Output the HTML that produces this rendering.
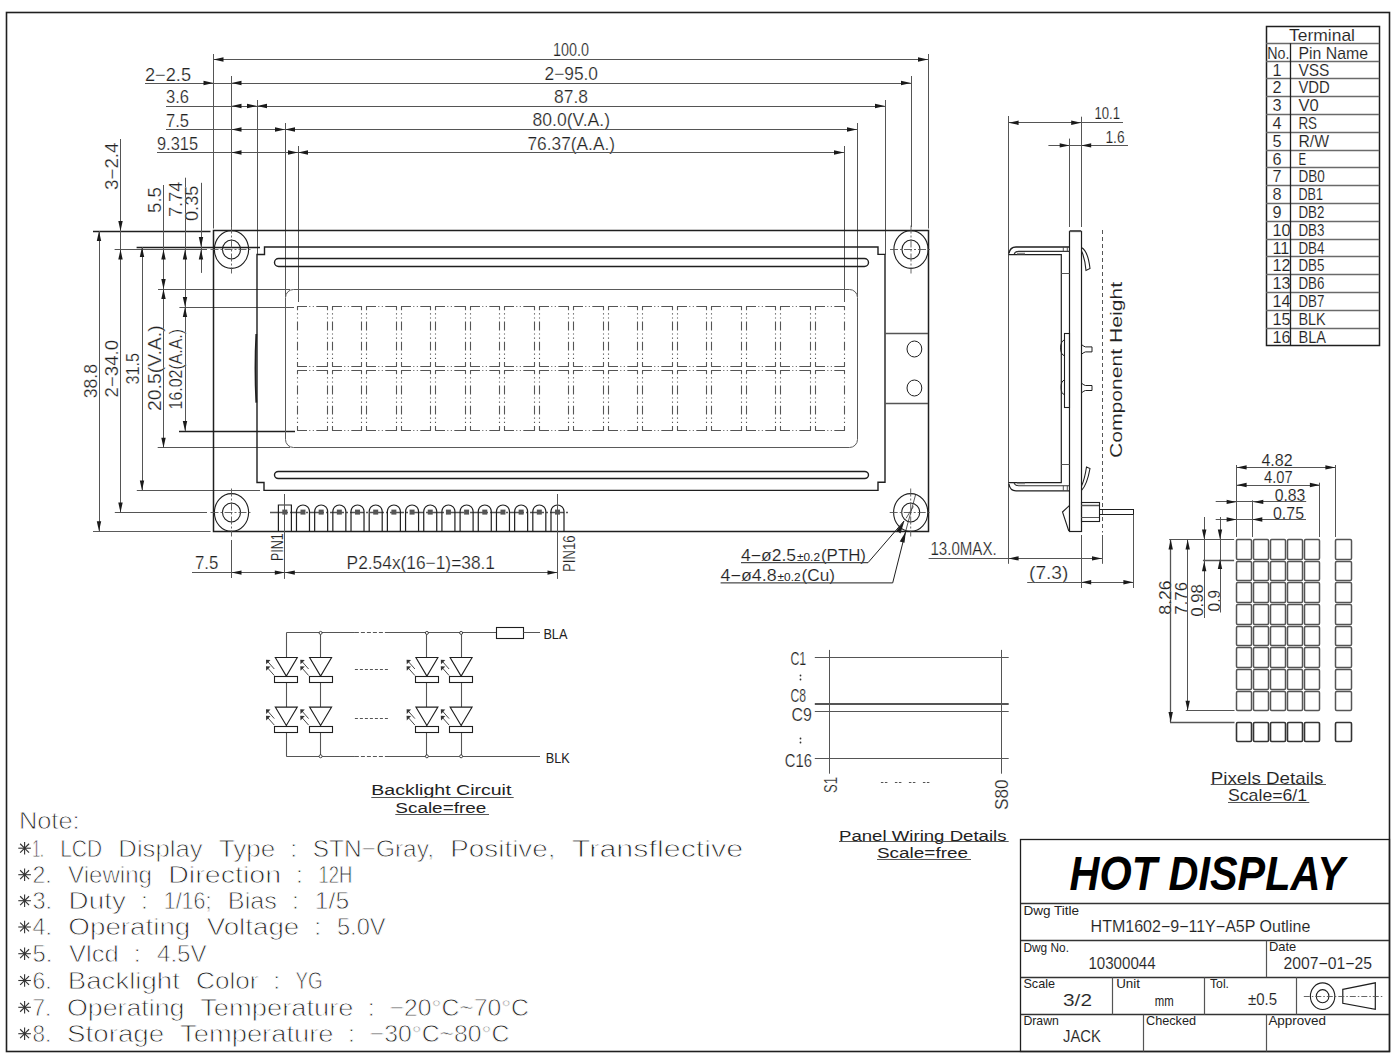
<!DOCTYPE html>
<html><head><meta charset="utf-8"><title>HTM1602 Outline</title>
<style>
html,body{margin:0;padding:0;background:#fff;}
body{width:1400px;height:1061px;overflow:hidden;font-family:"Liberation Sans",sans-serif;}
svg{display:block;}
</style></head><body>
<svg width="1400" height="1061" viewBox="0 0 1400 1061" shape-rendering="geometricPrecision">
<rect x="0" y="0" width="1400" height="1061" fill="#fff"/>
<rect x="6.5" y="12.5" width="1383" height="1039" fill="none" stroke="#1f1f1f" stroke-width="1.6"/>
<line x1="213.5" y1="54" x2="213.5" y2="228.5" stroke="#555" stroke-width="1"/>
<line x1="231.5" y1="76" x2="231.5" y2="227" stroke="#555" stroke-width="1"/>
<line x1="257.5" y1="100" x2="257.5" y2="254.5" stroke="#555" stroke-width="1"/>
<line x1="285.5" y1="123" x2="285.5" y2="297" stroke="#555" stroke-width="1"/>
<line x1="298.5" y1="146" x2="298.5" y2="302" stroke="#555" stroke-width="1"/>
<line x1="844.5" y1="146" x2="844.5" y2="302" stroke="#555" stroke-width="1"/>
<line x1="857.5" y1="123" x2="857.5" y2="297" stroke="#555" stroke-width="1"/>
<line x1="885.5" y1="100" x2="885.5" y2="254.5" stroke="#555" stroke-width="1"/>
<line x1="911.5" y1="76" x2="911.5" y2="227" stroke="#555" stroke-width="1"/>
<line x1="928.5" y1="54" x2="928.5" y2="228.5" stroke="#555" stroke-width="1"/>
<line x1="213.5" y1="59.5" x2="928" y2="59.5" stroke="#555" stroke-width="1"/>
<polygon points="213.5,59.5 223.5,57.3 223.5,61.7" fill="#1a1a1a"/>
<polygon points="928,59.5 918,57.3 918,61.7" fill="#1a1a1a"/>
<text x="553" y="56" font-size="17.44" font-weight="normal" font-style="normal" font-family="Liberation Sans" fill="#222" textLength="36" lengthAdjust="spacingAndGlyphs" stroke="#fff" stroke-width="0.23">100.0</text>
<line x1="145" y1="83.5" x2="911" y2="83.5" stroke="#555" stroke-width="1"/>
<polygon points="213.5,83 203.5,80.8 203.5,85.2" fill="#1a1a1a"/>
<polygon points="231.5,83 241.5,80.8 241.5,85.2" fill="#1a1a1a"/>
<polygon points="911,83 901,80.8 901,85.2" fill="#1a1a1a"/>
<text x="145" y="80.5" font-size="17.44" font-weight="normal" font-style="normal" font-family="Liberation Sans" fill="#222" textLength="46" lengthAdjust="spacingAndGlyphs" stroke="#fff" stroke-width="0.23">2−2.5</text>
<text x="544.5" y="79.5" font-size="17.44" font-weight="normal" font-style="normal" font-family="Liberation Sans" fill="#222" textLength="53.5" lengthAdjust="spacingAndGlyphs" stroke="#fff" stroke-width="0.23">2−95.0</text>
<line x1="166" y1="106.5" x2="885" y2="106.5" stroke="#555" stroke-width="1"/>
<polygon points="231.5,106 241.5,103.8 241.5,108.2" fill="#1a1a1a"/>
<polygon points="257,106 247,103.8 247,108.2" fill="#1a1a1a"/>
<polygon points="257,106 267,103.8 267,108.2" fill="#1a1a1a"/>
<polygon points="885,106 875,103.8 875,108.2" fill="#1a1a1a"/>
<text x="166" y="103" font-size="17.44" font-weight="normal" font-style="normal" font-family="Liberation Sans" fill="#222" textLength="23" lengthAdjust="spacingAndGlyphs" stroke="#fff" stroke-width="0.23">3.6</text>
<text x="554" y="102.5" font-size="17.44" font-weight="normal" font-style="normal" font-family="Liberation Sans" fill="#222" textLength="34" lengthAdjust="spacingAndGlyphs" stroke="#fff" stroke-width="0.23">87.8</text>
<line x1="166" y1="129.5" x2="857" y2="129.5" stroke="#555" stroke-width="1"/>
<polygon points="231.5,129.5 241.5,127.3 241.5,131.7" fill="#1a1a1a"/>
<polygon points="285,129.5 275,127.3 275,131.7" fill="#1a1a1a"/>
<polygon points="285,129.5 295,127.3 295,131.7" fill="#1a1a1a"/>
<polygon points="857,129.5 847,127.3 847,131.7" fill="#1a1a1a"/>
<text x="166" y="126.5" font-size="17.44" font-weight="normal" font-style="normal" font-family="Liberation Sans" fill="#222" textLength="23" lengthAdjust="spacingAndGlyphs" stroke="#fff" stroke-width="0.23">7.5</text>
<text x="532.5" y="126" font-size="17.44" font-weight="normal" font-style="normal" font-family="Liberation Sans" fill="#222" textLength="77.5" lengthAdjust="spacingAndGlyphs" stroke="#fff" stroke-width="0.23">80.0(V.A.)</text>
<line x1="157" y1="152.5" x2="844" y2="152.5" stroke="#555" stroke-width="1"/>
<polygon points="231.5,152.5 241.5,150.3 241.5,154.7" fill="#1a1a1a"/>
<polygon points="298,152.5 288,150.3 288,154.7" fill="#1a1a1a"/>
<polygon points="298,152.5 308,150.3 308,154.7" fill="#1a1a1a"/>
<polygon points="844,152.5 834,150.3 834,154.7" fill="#1a1a1a"/>
<text x="157" y="150" font-size="17.44" font-weight="normal" font-style="normal" font-family="Liberation Sans" fill="#222" textLength="41" lengthAdjust="spacingAndGlyphs" stroke="#fff" stroke-width="0.23">9.315</text>
<text x="527.5" y="149.5" font-size="17.44" font-weight="normal" font-style="normal" font-family="Liberation Sans" fill="#222" textLength="87.5" lengthAdjust="spacingAndGlyphs" stroke="#fff" stroke-width="0.23">76.37(A.A.)</text>
<line x1="93" y1="231.5" x2="210.5" y2="231.5" stroke="#1f1f1f" stroke-width="1.5"/>
<line x1="93" y1="531.5" x2="210.5" y2="531.5" stroke="#5a5a5a" stroke-width="1.2"/>
<line x1="114.6" y1="249.5" x2="207" y2="249.5" stroke="#555" stroke-width="1"/>
<line x1="114.8" y1="512.5" x2="207" y2="512.5" stroke="#555" stroke-width="1"/>
<line x1="136.6" y1="247.5" x2="260" y2="247.5" stroke="#1f1f1f" stroke-width="1.5"/>
<line x1="136.8" y1="490.5" x2="260" y2="490.5" stroke="#555" stroke-width="1.2"/>
<line x1="158" y1="289.5" x2="290" y2="289.5" stroke="#555" stroke-width="1"/>
<line x1="157.7" y1="447.5" x2="290" y2="447.5" stroke="#555" stroke-width="1"/>
<line x1="179.4" y1="307.5" x2="294" y2="307.5" stroke="#555" stroke-width="1"/>
<line x1="179" y1="431.5" x2="295" y2="431.5" stroke="#1f1f1f" stroke-width="1.6"/>
<line x1="99.5" y1="231" x2="99.5" y2="531.3" stroke="#555" stroke-width="1"/>
<polygon points="99,231 96.8,241 101.2,241" fill="#1a1a1a"/>
<polygon points="99,531.3 96.8,521.3 101.2,521.3" fill="#1a1a1a"/>
<text x="73.45" y="387.15" font-size="17.44" font-family="Liberation Sans" fill="#222" textLength="34.3" lengthAdjust="spacingAndGlyphs" transform="rotate(-90 90.6 381.15)" stroke="#fff" stroke-width="0.23">38.8</text>
<line x1="120.5" y1="139" x2="120.5" y2="512.5" stroke="#555" stroke-width="1"/>
<polygon points="120.5,231 118.3,221 122.7,221" fill="#1a1a1a"/>
<polygon points="120.5,249.5 118.3,259.5 122.7,259.5" fill="#1a1a1a"/>
<polygon points="120.5,512.5 118.3,502.5 122.7,502.5" fill="#1a1a1a"/>
<text x="88.25" y="172.25" font-size="17.44" font-family="Liberation Sans" fill="#222" textLength="47.5" lengthAdjust="spacingAndGlyphs" transform="rotate(-90 112 166.25)" stroke="#fff" stroke-width="0.23">3−2.4</text>
<text x="83" y="374.7" font-size="17.44" font-family="Liberation Sans" fill="#222" textLength="57.4" lengthAdjust="spacingAndGlyphs" transform="rotate(-90 111.7 368.7)" stroke="#fff" stroke-width="0.23">2−34.0</text>
<line x1="142.5" y1="247" x2="142.5" y2="490.4" stroke="#555" stroke-width="1"/>
<polygon points="142,247 139.8,257 144.2,257" fill="#1a1a1a"/>
<polygon points="142,490.4 139.8,480.4 144.2,480.4" fill="#1a1a1a"/>
<text x="117.15" y="374.75" font-size="17.44" font-family="Liberation Sans" fill="#222" textLength="31.7" lengthAdjust="spacingAndGlyphs" transform="rotate(-90 133 368.75)" stroke="#fff" stroke-width="0.23">31.5</text>
<line x1="163.5" y1="185" x2="163.5" y2="447.7" stroke="#555" stroke-width="1"/>
<polygon points="163.5,249.5 161.3,259.5 165.7,259.5" fill="#1a1a1a"/>
<polygon points="163.5,289 161.3,279 165.7,279" fill="#1a1a1a"/>
<polygon points="163.5,289 161.3,299 165.7,299" fill="#1a1a1a"/>
<polygon points="163.5,447.7 161.3,437.7 165.7,437.7" fill="#1a1a1a"/>
<text x="141.7" y="206" font-size="17.44" font-family="Liberation Sans" fill="#222" textLength="26" lengthAdjust="spacingAndGlyphs" transform="rotate(-90 154.7 200)" stroke="#fff" stroke-width="0.23">5.5</text>
<text x="111.8" y="374.2" font-size="17.44" font-family="Liberation Sans" fill="#222" textLength="85.6" lengthAdjust="spacingAndGlyphs" transform="rotate(-90 154.6 368.2)" stroke="#fff" stroke-width="0.23">20.5(V.A.)</text>
<line x1="185.5" y1="177.7" x2="185.5" y2="431" stroke="#555" stroke-width="1"/>
<polygon points="185,249.5 182.8,259.5 187.2,259.5" fill="#1a1a1a"/>
<polygon points="185,307 182.8,297 187.2,297" fill="#1a1a1a"/>
<polygon points="185,307 182.8,317 187.2,317" fill="#1a1a1a"/>
<polygon points="185,431 182.8,421 187.2,421" fill="#1a1a1a"/>
<text x="158.35" y="205.35" font-size="17.44" font-family="Liberation Sans" fill="#222" textLength="35.3" lengthAdjust="spacingAndGlyphs" transform="rotate(-90 176 199.35)" stroke="#fff" stroke-width="0.23">7.74</text>
<text x="136.05" y="375.15" font-size="17.44" font-family="Liberation Sans" fill="#222" textLength="80.5" lengthAdjust="spacingAndGlyphs" transform="rotate(-90 176.3 369.15)" stroke="#fff" stroke-width="0.23">16.02(A.A.)</text>
<line x1="201.5" y1="182.8" x2="201.5" y2="272.9" stroke="#555" stroke-width="1"/>
<polygon points="201,247 198.8,237 203.2,237" fill="#1a1a1a"/>
<polygon points="201,249.5 198.8,259.5 203.2,259.5" fill="#1a1a1a"/>
<text x="174.7" y="209.3" font-size="17.44" font-family="Liberation Sans" fill="#222" textLength="35.4" lengthAdjust="spacingAndGlyphs" transform="rotate(-90 192.4 203.3)" stroke="#fff" stroke-width="0.23">0.35</text>
<rect x="213.5" y="230.5" width="715" height="301" fill="none" stroke="#1f1f1f" stroke-width="1.5"/>
<path d="M257,254.5 L264.5,254.5 L264.5,247 L878,247 L878,254.4 L885,254.4 L885,482.3 L878,482.3 L878,490.4 L264,490.4 L264,482.5 L257,482.5 Z" fill="none" stroke="#1f1f1f" stroke-width="1.4"/>
<path d="M256.3,334 Q254.6,368 256.3,402.6" fill="none" stroke="#1f1f1f" stroke-width="1.8"/>
<rect x="274.5" y="258.5" width="594" height="8" rx="4.1" fill="none" stroke="#1f1f1f" stroke-width="1.4"/>
<rect x="274.5" y="471.5" width="594" height="7" rx="3.8" fill="none" stroke="#1f1f1f" stroke-width="1.4"/>
<rect x="285.5" y="289.5" width="572" height="158" rx="8" fill="none" stroke="#5a5a5a" stroke-width="1"/>
<line x1="297" y1="306.5" x2="328" y2="306.5" stroke="#555" stroke-width="1.1" stroke-dasharray="10 2.3 1 2.5 1 2.5 14"/>
<line x1="297" y1="366.5" x2="328" y2="366.5" stroke="#555" stroke-width="1.1" stroke-dasharray="10 2.3 1 2.5 1 2.5 14"/>
<line x1="297.5" y1="306.5" x2="297.5" y2="366.5" stroke="#555" stroke-width="1.1" stroke-dasharray="8.8 3 1.2 3 1.2 3" stroke-dashoffset="5.1"/>
<line x1="327.5" y1="306.5" x2="327.5" y2="366.5" stroke="#555" stroke-width="1.1" stroke-dasharray="8.8 3 1.2 3 1.2 3" stroke-dashoffset="5.1"/>
<line x1="332" y1="306.5" x2="362" y2="306.5" stroke="#555" stroke-width="1.1" stroke-dasharray="10 2.3 1 2.5 1 2.5 14"/>
<line x1="332" y1="366.5" x2="362" y2="366.5" stroke="#555" stroke-width="1.1" stroke-dasharray="10 2.3 1 2.5 1 2.5 14"/>
<line x1="332.5" y1="306.5" x2="332.5" y2="366.5" stroke="#555" stroke-width="1.1" stroke-dasharray="8.8 3 1.2 3 1.2 3" stroke-dashoffset="5.1"/>
<line x1="361.5" y1="306.5" x2="361.5" y2="366.5" stroke="#555" stroke-width="1.1" stroke-dasharray="8.8 3 1.2 3 1.2 3" stroke-dashoffset="5.1"/>
<line x1="366" y1="306.5" x2="397" y2="306.5" stroke="#555" stroke-width="1.1" stroke-dasharray="10 2.3 1 2.5 1 2.5 14"/>
<line x1="366" y1="366.5" x2="397" y2="366.5" stroke="#555" stroke-width="1.1" stroke-dasharray="10 2.3 1 2.5 1 2.5 14"/>
<line x1="366.5" y1="306.5" x2="366.5" y2="366.5" stroke="#555" stroke-width="1.1" stroke-dasharray="8.8 3 1.2 3 1.2 3" stroke-dashoffset="5.1"/>
<line x1="396.5" y1="306.5" x2="396.5" y2="366.5" stroke="#555" stroke-width="1.1" stroke-dasharray="8.8 3 1.2 3 1.2 3" stroke-dashoffset="5.1"/>
<line x1="401" y1="306.5" x2="431" y2="306.5" stroke="#555" stroke-width="1.1" stroke-dasharray="10 2.3 1 2.5 1 2.5 14"/>
<line x1="401" y1="366.5" x2="431" y2="366.5" stroke="#555" stroke-width="1.1" stroke-dasharray="10 2.3 1 2.5 1 2.5 14"/>
<line x1="401.5" y1="306.5" x2="401.5" y2="366.5" stroke="#555" stroke-width="1.1" stroke-dasharray="8.8 3 1.2 3 1.2 3" stroke-dashoffset="5.1"/>
<line x1="430.5" y1="306.5" x2="430.5" y2="366.5" stroke="#555" stroke-width="1.1" stroke-dasharray="8.8 3 1.2 3 1.2 3" stroke-dashoffset="5.1"/>
<line x1="435" y1="306.5" x2="466" y2="306.5" stroke="#555" stroke-width="1.1" stroke-dasharray="10 2.3 1 2.5 1 2.5 14"/>
<line x1="435" y1="366.5" x2="466" y2="366.5" stroke="#555" stroke-width="1.1" stroke-dasharray="10 2.3 1 2.5 1 2.5 14"/>
<line x1="435.5" y1="306.5" x2="435.5" y2="366.5" stroke="#555" stroke-width="1.1" stroke-dasharray="8.8 3 1.2 3 1.2 3" stroke-dashoffset="5.1"/>
<line x1="465.5" y1="306.5" x2="465.5" y2="366.5" stroke="#555" stroke-width="1.1" stroke-dasharray="8.8 3 1.2 3 1.2 3" stroke-dashoffset="5.1"/>
<line x1="470" y1="306.5" x2="500" y2="306.5" stroke="#555" stroke-width="1.1" stroke-dasharray="10 2.3 1 2.5 1 2.5 14"/>
<line x1="470" y1="366.5" x2="500" y2="366.5" stroke="#555" stroke-width="1.1" stroke-dasharray="10 2.3 1 2.5 1 2.5 14"/>
<line x1="470.5" y1="306.5" x2="470.5" y2="366.5" stroke="#555" stroke-width="1.1" stroke-dasharray="8.8 3 1.2 3 1.2 3" stroke-dashoffset="5.1"/>
<line x1="499.5" y1="306.5" x2="499.5" y2="366.5" stroke="#555" stroke-width="1.1" stroke-dasharray="8.8 3 1.2 3 1.2 3" stroke-dashoffset="5.1"/>
<line x1="504" y1="306.5" x2="535" y2="306.5" stroke="#555" stroke-width="1.1" stroke-dasharray="10 2.3 1 2.5 1 2.5 14"/>
<line x1="504" y1="366.5" x2="535" y2="366.5" stroke="#555" stroke-width="1.1" stroke-dasharray="10 2.3 1 2.5 1 2.5 14"/>
<line x1="504.5" y1="306.5" x2="504.5" y2="366.5" stroke="#555" stroke-width="1.1" stroke-dasharray="8.8 3 1.2 3 1.2 3" stroke-dashoffset="5.1"/>
<line x1="534.5" y1="306.5" x2="534.5" y2="366.5" stroke="#555" stroke-width="1.1" stroke-dasharray="8.8 3 1.2 3 1.2 3" stroke-dashoffset="5.1"/>
<line x1="539" y1="306.5" x2="569" y2="306.5" stroke="#555" stroke-width="1.1" stroke-dasharray="10 2.3 1 2.5 1 2.5 14"/>
<line x1="539" y1="366.5" x2="569" y2="366.5" stroke="#555" stroke-width="1.1" stroke-dasharray="10 2.3 1 2.5 1 2.5 14"/>
<line x1="539.5" y1="306.5" x2="539.5" y2="366.5" stroke="#555" stroke-width="1.1" stroke-dasharray="8.8 3 1.2 3 1.2 3" stroke-dashoffset="5.1"/>
<line x1="568.5" y1="306.5" x2="568.5" y2="366.5" stroke="#555" stroke-width="1.1" stroke-dasharray="8.8 3 1.2 3 1.2 3" stroke-dashoffset="5.1"/>
<line x1="573" y1="306.5" x2="604" y2="306.5" stroke="#555" stroke-width="1.1" stroke-dasharray="10 2.3 1 2.5 1 2.5 14"/>
<line x1="573" y1="366.5" x2="604" y2="366.5" stroke="#555" stroke-width="1.1" stroke-dasharray="10 2.3 1 2.5 1 2.5 14"/>
<line x1="573.5" y1="306.5" x2="573.5" y2="366.5" stroke="#555" stroke-width="1.1" stroke-dasharray="8.8 3 1.2 3 1.2 3" stroke-dashoffset="5.1"/>
<line x1="603.5" y1="306.5" x2="603.5" y2="366.5" stroke="#555" stroke-width="1.1" stroke-dasharray="8.8 3 1.2 3 1.2 3" stroke-dashoffset="5.1"/>
<line x1="608" y1="306.5" x2="638" y2="306.5" stroke="#555" stroke-width="1.1" stroke-dasharray="10 2.3 1 2.5 1 2.5 14"/>
<line x1="608" y1="366.5" x2="638" y2="366.5" stroke="#555" stroke-width="1.1" stroke-dasharray="10 2.3 1 2.5 1 2.5 14"/>
<line x1="608.5" y1="306.5" x2="608.5" y2="366.5" stroke="#555" stroke-width="1.1" stroke-dasharray="8.8 3 1.2 3 1.2 3" stroke-dashoffset="5.1"/>
<line x1="637.5" y1="306.5" x2="637.5" y2="366.5" stroke="#555" stroke-width="1.1" stroke-dasharray="8.8 3 1.2 3 1.2 3" stroke-dashoffset="5.1"/>
<line x1="642" y1="306.5" x2="673" y2="306.5" stroke="#555" stroke-width="1.1" stroke-dasharray="10 2.3 1 2.5 1 2.5 14"/>
<line x1="642" y1="366.5" x2="673" y2="366.5" stroke="#555" stroke-width="1.1" stroke-dasharray="10 2.3 1 2.5 1 2.5 14"/>
<line x1="642.5" y1="306.5" x2="642.5" y2="366.5" stroke="#555" stroke-width="1.1" stroke-dasharray="8.8 3 1.2 3 1.2 3" stroke-dashoffset="5.1"/>
<line x1="672.5" y1="306.5" x2="672.5" y2="366.5" stroke="#555" stroke-width="1.1" stroke-dasharray="8.8 3 1.2 3 1.2 3" stroke-dashoffset="5.1"/>
<line x1="677" y1="306.5" x2="707" y2="306.5" stroke="#555" stroke-width="1.1" stroke-dasharray="10 2.3 1 2.5 1 2.5 14"/>
<line x1="677" y1="366.5" x2="707" y2="366.5" stroke="#555" stroke-width="1.1" stroke-dasharray="10 2.3 1 2.5 1 2.5 14"/>
<line x1="677.5" y1="306.5" x2="677.5" y2="366.5" stroke="#555" stroke-width="1.1" stroke-dasharray="8.8 3 1.2 3 1.2 3" stroke-dashoffset="5.1"/>
<line x1="706.5" y1="306.5" x2="706.5" y2="366.5" stroke="#555" stroke-width="1.1" stroke-dasharray="8.8 3 1.2 3 1.2 3" stroke-dashoffset="5.1"/>
<line x1="711" y1="306.5" x2="742" y2="306.5" stroke="#555" stroke-width="1.1" stroke-dasharray="10 2.3 1 2.5 1 2.5 14"/>
<line x1="711" y1="366.5" x2="742" y2="366.5" stroke="#555" stroke-width="1.1" stroke-dasharray="10 2.3 1 2.5 1 2.5 14"/>
<line x1="711.5" y1="306.5" x2="711.5" y2="366.5" stroke="#555" stroke-width="1.1" stroke-dasharray="8.8 3 1.2 3 1.2 3" stroke-dashoffset="5.1"/>
<line x1="741.5" y1="306.5" x2="741.5" y2="366.5" stroke="#555" stroke-width="1.1" stroke-dasharray="8.8 3 1.2 3 1.2 3" stroke-dashoffset="5.1"/>
<line x1="746" y1="306.5" x2="776" y2="306.5" stroke="#555" stroke-width="1.1" stroke-dasharray="10 2.3 1 2.5 1 2.5 14"/>
<line x1="746" y1="366.5" x2="776" y2="366.5" stroke="#555" stroke-width="1.1" stroke-dasharray="10 2.3 1 2.5 1 2.5 14"/>
<line x1="746.5" y1="306.5" x2="746.5" y2="366.5" stroke="#555" stroke-width="1.1" stroke-dasharray="8.8 3 1.2 3 1.2 3" stroke-dashoffset="5.1"/>
<line x1="775.5" y1="306.5" x2="775.5" y2="366.5" stroke="#555" stroke-width="1.1" stroke-dasharray="8.8 3 1.2 3 1.2 3" stroke-dashoffset="5.1"/>
<line x1="780" y1="306.5" x2="811" y2="306.5" stroke="#555" stroke-width="1.1" stroke-dasharray="10 2.3 1 2.5 1 2.5 14"/>
<line x1="780" y1="366.5" x2="811" y2="366.5" stroke="#555" stroke-width="1.1" stroke-dasharray="10 2.3 1 2.5 1 2.5 14"/>
<line x1="780.5" y1="306.5" x2="780.5" y2="366.5" stroke="#555" stroke-width="1.1" stroke-dasharray="8.8 3 1.2 3 1.2 3" stroke-dashoffset="5.1"/>
<line x1="810.5" y1="306.5" x2="810.5" y2="366.5" stroke="#555" stroke-width="1.1" stroke-dasharray="8.8 3 1.2 3 1.2 3" stroke-dashoffset="5.1"/>
<line x1="815" y1="306.5" x2="845" y2="306.5" stroke="#555" stroke-width="1.1" stroke-dasharray="10 2.3 1 2.5 1 2.5 14"/>
<line x1="815" y1="366.5" x2="845" y2="366.5" stroke="#555" stroke-width="1.1" stroke-dasharray="10 2.3 1 2.5 1 2.5 14"/>
<line x1="815.5" y1="306.5" x2="815.5" y2="366.5" stroke="#555" stroke-width="1.1" stroke-dasharray="8.8 3 1.2 3 1.2 3" stroke-dashoffset="5.1"/>
<line x1="844.5" y1="306.5" x2="844.5" y2="366.5" stroke="#555" stroke-width="1.1" stroke-dasharray="8.8 3 1.2 3 1.2 3" stroke-dashoffset="5.1"/>
<line x1="297" y1="370.5" x2="328" y2="370.5" stroke="#555" stroke-width="1.1" stroke-dasharray="10 2.3 1 2.5 1 2.5 14"/>
<line x1="297" y1="430.5" x2="328" y2="430.5" stroke="#555" stroke-width="1.1" stroke-dasharray="10 2.3 1 2.5 1 2.5 14"/>
<line x1="297.5" y1="370.5" x2="297.5" y2="430.5" stroke="#555" stroke-width="1.1" stroke-dasharray="8.8 3 1.2 3 1.2 3" stroke-dashoffset="5.1"/>
<line x1="327.5" y1="370.5" x2="327.5" y2="430.5" stroke="#555" stroke-width="1.1" stroke-dasharray="8.8 3 1.2 3 1.2 3" stroke-dashoffset="5.1"/>
<line x1="332" y1="370.5" x2="362" y2="370.5" stroke="#555" stroke-width="1.1" stroke-dasharray="10 2.3 1 2.5 1 2.5 14"/>
<line x1="332" y1="430.5" x2="362" y2="430.5" stroke="#555" stroke-width="1.1" stroke-dasharray="10 2.3 1 2.5 1 2.5 14"/>
<line x1="332.5" y1="370.5" x2="332.5" y2="430.5" stroke="#555" stroke-width="1.1" stroke-dasharray="8.8 3 1.2 3 1.2 3" stroke-dashoffset="5.1"/>
<line x1="361.5" y1="370.5" x2="361.5" y2="430.5" stroke="#555" stroke-width="1.1" stroke-dasharray="8.8 3 1.2 3 1.2 3" stroke-dashoffset="5.1"/>
<line x1="366" y1="370.5" x2="397" y2="370.5" stroke="#555" stroke-width="1.1" stroke-dasharray="10 2.3 1 2.5 1 2.5 14"/>
<line x1="366" y1="430.5" x2="397" y2="430.5" stroke="#555" stroke-width="1.1" stroke-dasharray="10 2.3 1 2.5 1 2.5 14"/>
<line x1="366.5" y1="370.5" x2="366.5" y2="430.5" stroke="#555" stroke-width="1.1" stroke-dasharray="8.8 3 1.2 3 1.2 3" stroke-dashoffset="5.1"/>
<line x1="396.5" y1="370.5" x2="396.5" y2="430.5" stroke="#555" stroke-width="1.1" stroke-dasharray="8.8 3 1.2 3 1.2 3" stroke-dashoffset="5.1"/>
<line x1="401" y1="370.5" x2="431" y2="370.5" stroke="#555" stroke-width="1.1" stroke-dasharray="10 2.3 1 2.5 1 2.5 14"/>
<line x1="401" y1="430.5" x2="431" y2="430.5" stroke="#555" stroke-width="1.1" stroke-dasharray="10 2.3 1 2.5 1 2.5 14"/>
<line x1="401.5" y1="370.5" x2="401.5" y2="430.5" stroke="#555" stroke-width="1.1" stroke-dasharray="8.8 3 1.2 3 1.2 3" stroke-dashoffset="5.1"/>
<line x1="430.5" y1="370.5" x2="430.5" y2="430.5" stroke="#555" stroke-width="1.1" stroke-dasharray="8.8 3 1.2 3 1.2 3" stroke-dashoffset="5.1"/>
<line x1="435" y1="370.5" x2="466" y2="370.5" stroke="#555" stroke-width="1.1" stroke-dasharray="10 2.3 1 2.5 1 2.5 14"/>
<line x1="435" y1="430.5" x2="466" y2="430.5" stroke="#555" stroke-width="1.1" stroke-dasharray="10 2.3 1 2.5 1 2.5 14"/>
<line x1="435.5" y1="370.5" x2="435.5" y2="430.5" stroke="#555" stroke-width="1.1" stroke-dasharray="8.8 3 1.2 3 1.2 3" stroke-dashoffset="5.1"/>
<line x1="465.5" y1="370.5" x2="465.5" y2="430.5" stroke="#555" stroke-width="1.1" stroke-dasharray="8.8 3 1.2 3 1.2 3" stroke-dashoffset="5.1"/>
<line x1="470" y1="370.5" x2="500" y2="370.5" stroke="#555" stroke-width="1.1" stroke-dasharray="10 2.3 1 2.5 1 2.5 14"/>
<line x1="470" y1="430.5" x2="500" y2="430.5" stroke="#555" stroke-width="1.1" stroke-dasharray="10 2.3 1 2.5 1 2.5 14"/>
<line x1="470.5" y1="370.5" x2="470.5" y2="430.5" stroke="#555" stroke-width="1.1" stroke-dasharray="8.8 3 1.2 3 1.2 3" stroke-dashoffset="5.1"/>
<line x1="499.5" y1="370.5" x2="499.5" y2="430.5" stroke="#555" stroke-width="1.1" stroke-dasharray="8.8 3 1.2 3 1.2 3" stroke-dashoffset="5.1"/>
<line x1="504" y1="370.5" x2="535" y2="370.5" stroke="#555" stroke-width="1.1" stroke-dasharray="10 2.3 1 2.5 1 2.5 14"/>
<line x1="504" y1="430.5" x2="535" y2="430.5" stroke="#555" stroke-width="1.1" stroke-dasharray="10 2.3 1 2.5 1 2.5 14"/>
<line x1="504.5" y1="370.5" x2="504.5" y2="430.5" stroke="#555" stroke-width="1.1" stroke-dasharray="8.8 3 1.2 3 1.2 3" stroke-dashoffset="5.1"/>
<line x1="534.5" y1="370.5" x2="534.5" y2="430.5" stroke="#555" stroke-width="1.1" stroke-dasharray="8.8 3 1.2 3 1.2 3" stroke-dashoffset="5.1"/>
<line x1="539" y1="370.5" x2="569" y2="370.5" stroke="#555" stroke-width="1.1" stroke-dasharray="10 2.3 1 2.5 1 2.5 14"/>
<line x1="539" y1="430.5" x2="569" y2="430.5" stroke="#555" stroke-width="1.1" stroke-dasharray="10 2.3 1 2.5 1 2.5 14"/>
<line x1="539.5" y1="370.5" x2="539.5" y2="430.5" stroke="#555" stroke-width="1.1" stroke-dasharray="8.8 3 1.2 3 1.2 3" stroke-dashoffset="5.1"/>
<line x1="568.5" y1="370.5" x2="568.5" y2="430.5" stroke="#555" stroke-width="1.1" stroke-dasharray="8.8 3 1.2 3 1.2 3" stroke-dashoffset="5.1"/>
<line x1="573" y1="370.5" x2="604" y2="370.5" stroke="#555" stroke-width="1.1" stroke-dasharray="10 2.3 1 2.5 1 2.5 14"/>
<line x1="573" y1="430.5" x2="604" y2="430.5" stroke="#555" stroke-width="1.1" stroke-dasharray="10 2.3 1 2.5 1 2.5 14"/>
<line x1="573.5" y1="370.5" x2="573.5" y2="430.5" stroke="#555" stroke-width="1.1" stroke-dasharray="8.8 3 1.2 3 1.2 3" stroke-dashoffset="5.1"/>
<line x1="603.5" y1="370.5" x2="603.5" y2="430.5" stroke="#555" stroke-width="1.1" stroke-dasharray="8.8 3 1.2 3 1.2 3" stroke-dashoffset="5.1"/>
<line x1="608" y1="370.5" x2="638" y2="370.5" stroke="#555" stroke-width="1.1" stroke-dasharray="10 2.3 1 2.5 1 2.5 14"/>
<line x1="608" y1="430.5" x2="638" y2="430.5" stroke="#555" stroke-width="1.1" stroke-dasharray="10 2.3 1 2.5 1 2.5 14"/>
<line x1="608.5" y1="370.5" x2="608.5" y2="430.5" stroke="#555" stroke-width="1.1" stroke-dasharray="8.8 3 1.2 3 1.2 3" stroke-dashoffset="5.1"/>
<line x1="637.5" y1="370.5" x2="637.5" y2="430.5" stroke="#555" stroke-width="1.1" stroke-dasharray="8.8 3 1.2 3 1.2 3" stroke-dashoffset="5.1"/>
<line x1="642" y1="370.5" x2="673" y2="370.5" stroke="#555" stroke-width="1.1" stroke-dasharray="10 2.3 1 2.5 1 2.5 14"/>
<line x1="642" y1="430.5" x2="673" y2="430.5" stroke="#555" stroke-width="1.1" stroke-dasharray="10 2.3 1 2.5 1 2.5 14"/>
<line x1="642.5" y1="370.5" x2="642.5" y2="430.5" stroke="#555" stroke-width="1.1" stroke-dasharray="8.8 3 1.2 3 1.2 3" stroke-dashoffset="5.1"/>
<line x1="672.5" y1="370.5" x2="672.5" y2="430.5" stroke="#555" stroke-width="1.1" stroke-dasharray="8.8 3 1.2 3 1.2 3" stroke-dashoffset="5.1"/>
<line x1="677" y1="370.5" x2="707" y2="370.5" stroke="#555" stroke-width="1.1" stroke-dasharray="10 2.3 1 2.5 1 2.5 14"/>
<line x1="677" y1="430.5" x2="707" y2="430.5" stroke="#555" stroke-width="1.1" stroke-dasharray="10 2.3 1 2.5 1 2.5 14"/>
<line x1="677.5" y1="370.5" x2="677.5" y2="430.5" stroke="#555" stroke-width="1.1" stroke-dasharray="8.8 3 1.2 3 1.2 3" stroke-dashoffset="5.1"/>
<line x1="706.5" y1="370.5" x2="706.5" y2="430.5" stroke="#555" stroke-width="1.1" stroke-dasharray="8.8 3 1.2 3 1.2 3" stroke-dashoffset="5.1"/>
<line x1="711" y1="370.5" x2="742" y2="370.5" stroke="#555" stroke-width="1.1" stroke-dasharray="10 2.3 1 2.5 1 2.5 14"/>
<line x1="711" y1="430.5" x2="742" y2="430.5" stroke="#555" stroke-width="1.1" stroke-dasharray="10 2.3 1 2.5 1 2.5 14"/>
<line x1="711.5" y1="370.5" x2="711.5" y2="430.5" stroke="#555" stroke-width="1.1" stroke-dasharray="8.8 3 1.2 3 1.2 3" stroke-dashoffset="5.1"/>
<line x1="741.5" y1="370.5" x2="741.5" y2="430.5" stroke="#555" stroke-width="1.1" stroke-dasharray="8.8 3 1.2 3 1.2 3" stroke-dashoffset="5.1"/>
<line x1="746" y1="370.5" x2="776" y2="370.5" stroke="#555" stroke-width="1.1" stroke-dasharray="10 2.3 1 2.5 1 2.5 14"/>
<line x1="746" y1="430.5" x2="776" y2="430.5" stroke="#555" stroke-width="1.1" stroke-dasharray="10 2.3 1 2.5 1 2.5 14"/>
<line x1="746.5" y1="370.5" x2="746.5" y2="430.5" stroke="#555" stroke-width="1.1" stroke-dasharray="8.8 3 1.2 3 1.2 3" stroke-dashoffset="5.1"/>
<line x1="775.5" y1="370.5" x2="775.5" y2="430.5" stroke="#555" stroke-width="1.1" stroke-dasharray="8.8 3 1.2 3 1.2 3" stroke-dashoffset="5.1"/>
<line x1="780" y1="370.5" x2="811" y2="370.5" stroke="#555" stroke-width="1.1" stroke-dasharray="10 2.3 1 2.5 1 2.5 14"/>
<line x1="780" y1="430.5" x2="811" y2="430.5" stroke="#555" stroke-width="1.1" stroke-dasharray="10 2.3 1 2.5 1 2.5 14"/>
<line x1="780.5" y1="370.5" x2="780.5" y2="430.5" stroke="#555" stroke-width="1.1" stroke-dasharray="8.8 3 1.2 3 1.2 3" stroke-dashoffset="5.1"/>
<line x1="810.5" y1="370.5" x2="810.5" y2="430.5" stroke="#555" stroke-width="1.1" stroke-dasharray="8.8 3 1.2 3 1.2 3" stroke-dashoffset="5.1"/>
<line x1="815" y1="370.5" x2="845" y2="370.5" stroke="#555" stroke-width="1.1" stroke-dasharray="10 2.3 1 2.5 1 2.5 14"/>
<line x1="815" y1="430.5" x2="845" y2="430.5" stroke="#555" stroke-width="1.1" stroke-dasharray="10 2.3 1 2.5 1 2.5 14"/>
<line x1="815.5" y1="370.5" x2="815.5" y2="430.5" stroke="#555" stroke-width="1.1" stroke-dasharray="8.8 3 1.2 3 1.2 3" stroke-dashoffset="5.1"/>
<line x1="844.5" y1="370.5" x2="844.5" y2="430.5" stroke="#555" stroke-width="1.1" stroke-dasharray="8.8 3 1.2 3 1.2 3" stroke-dashoffset="5.1"/>
<line x1="885" y1="333.5" x2="928" y2="333.5" stroke="#555" stroke-width="1.3"/>
<line x1="885" y1="403.5" x2="928" y2="403.5" stroke="#555" stroke-width="1.3"/>
<ellipse cx="914.4" cy="349" rx="7.4" ry="8" fill="none" stroke="#1f1f1f" stroke-width="1"/>
<ellipse cx="914.4" cy="388" rx="7.4" ry="8" fill="none" stroke="#1f1f1f" stroke-width="1"/>
<ellipse cx="231.5" cy="249.5" rx="17.1" ry="18.9" fill="none" stroke="#1f1f1f" stroke-width="1.1"/>
<ellipse cx="231.5" cy="249.5" rx="9" ry="9.5" fill="none" stroke="#1f1f1f" stroke-width="1.1"/>
<line x1="210.5" y1="249.5" x2="252.5" y2="249.5" stroke="#555" stroke-width="0.9" stroke-dasharray="8 2 2 2"/>
<line x1="231.5" y1="225.5" x2="231.5" y2="273.5" stroke="#555" stroke-width="0.9" stroke-dasharray="8 2 2 2"/>
<ellipse cx="911" cy="249.5" rx="17.1" ry="18.9" fill="none" stroke="#1f1f1f" stroke-width="1.1"/>
<ellipse cx="911" cy="249.5" rx="9" ry="9.5" fill="none" stroke="#1f1f1f" stroke-width="1.1"/>
<line x1="890" y1="249.5" x2="932" y2="249.5" stroke="#555" stroke-width="0.9" stroke-dasharray="8 2 2 2"/>
<line x1="911" y1="225.5" x2="911" y2="273.5" stroke="#555" stroke-width="0.9" stroke-dasharray="8 2 2 2"/>
<ellipse cx="231.5" cy="512.5" rx="17.1" ry="18.9" fill="none" stroke="#1f1f1f" stroke-width="1.1"/>
<ellipse cx="231.5" cy="512.5" rx="9" ry="9.5" fill="none" stroke="#1f1f1f" stroke-width="1.1"/>
<line x1="210.5" y1="512.5" x2="252.5" y2="512.5" stroke="#555" stroke-width="0.9" stroke-dasharray="8 2 2 2"/>
<line x1="231.5" y1="488.5" x2="231.5" y2="536.5" stroke="#555" stroke-width="0.9" stroke-dasharray="8 2 2 2"/>
<ellipse cx="910.7" cy="512.5" rx="17.1" ry="18.9" fill="none" stroke="#1f1f1f" stroke-width="1.1"/>
<ellipse cx="910.7" cy="512.5" rx="9" ry="9.5" fill="none" stroke="#1f1f1f" stroke-width="1.1"/>
<line x1="889.7" y1="512.5" x2="931.7" y2="512.5" stroke="#555" stroke-width="0.9" stroke-dasharray="8 2 2 2"/>
<line x1="910.7" y1="488.5" x2="910.7" y2="536.5" stroke="#555" stroke-width="0.9" stroke-dasharray="8 2 2 2"/>
<line x1="270" y1="512.5" x2="570" y2="512.5" stroke="#555" stroke-width="1.3" stroke-dasharray="14 2 2 2"/>
<path d="M278.4,531.2 L278.4,505 L291.4,505 L291.4,531.2" fill="none" stroke="#1f1f1f" stroke-width="1.2"/>
<rect x="282.3" y="509.6" width="5" height="5" fill="#555"/>
<path d="M296.48,531.2 L296.48,511.5 A6.5,6.5 0 0 1 309.48,511.5 L309.48,531.2" fill="none" stroke="#1f1f1f" stroke-width="1.2"/>
<rect x="300.48" y="509.6" width="5" height="5" fill="#555"/>
<path d="M314.66,531.2 L314.66,511.5 A6.5,6.5 0 0 1 327.66,511.5 L327.66,531.2" fill="none" stroke="#1f1f1f" stroke-width="1.2"/>
<rect x="318.66" y="509.6" width="5" height="5" fill="#555"/>
<path d="M332.84,531.2 L332.84,511.5 A6.5,6.5 0 0 1 345.84,511.5 L345.84,531.2" fill="none" stroke="#1f1f1f" stroke-width="1.2"/>
<rect x="336.84" y="509.6" width="5" height="5" fill="#555"/>
<path d="M351.02,531.2 L351.02,511.5 A6.5,6.5 0 0 1 364.02,511.5 L364.02,531.2" fill="none" stroke="#1f1f1f" stroke-width="1.2"/>
<rect x="355.02" y="509.6" width="5" height="5" fill="#555"/>
<path d="M369.2,531.2 L369.2,511.5 A6.5,6.5 0 0 1 382.2,511.5 L382.2,531.2" fill="none" stroke="#1f1f1f" stroke-width="1.2"/>
<rect x="373.2" y="509.6" width="5" height="5" fill="#555"/>
<path d="M387.38,531.2 L387.38,511.5 A6.5,6.5 0 0 1 400.38,511.5 L400.38,531.2" fill="none" stroke="#1f1f1f" stroke-width="1.2"/>
<rect x="391.38" y="509.6" width="5" height="5" fill="#555"/>
<path d="M405.56,531.2 L405.56,511.5 A6.5,6.5 0 0 1 418.56,511.5 L418.56,531.2" fill="none" stroke="#1f1f1f" stroke-width="1.2"/>
<rect x="409.56" y="509.6" width="5" height="5" fill="#555"/>
<path d="M423.74,531.2 L423.74,511.5 A6.5,6.5 0 0 1 436.74,511.5 L436.74,531.2" fill="none" stroke="#1f1f1f" stroke-width="1.2"/>
<rect x="427.74" y="509.6" width="5" height="5" fill="#555"/>
<path d="M441.92,531.2 L441.92,511.5 A6.5,6.5 0 0 1 454.92,511.5 L454.92,531.2" fill="none" stroke="#1f1f1f" stroke-width="1.2"/>
<rect x="445.92" y="509.6" width="5" height="5" fill="#555"/>
<path d="M460.1,531.2 L460.1,511.5 A6.5,6.5 0 0 1 473.1,511.5 L473.1,531.2" fill="none" stroke="#1f1f1f" stroke-width="1.2"/>
<rect x="464.1" y="509.6" width="5" height="5" fill="#555"/>
<path d="M478.28,531.2 L478.28,511.5 A6.5,6.5 0 0 1 491.28,511.5 L491.28,531.2" fill="none" stroke="#1f1f1f" stroke-width="1.2"/>
<rect x="482.28" y="509.6" width="5" height="5" fill="#555"/>
<path d="M496.46,531.2 L496.46,511.5 A6.5,6.5 0 0 1 509.46,511.5 L509.46,531.2" fill="none" stroke="#1f1f1f" stroke-width="1.2"/>
<rect x="500.46" y="509.6" width="5" height="5" fill="#555"/>
<path d="M514.64,531.2 L514.64,511.5 A6.5,6.5 0 0 1 527.64,511.5 L527.64,531.2" fill="none" stroke="#1f1f1f" stroke-width="1.2"/>
<rect x="518.64" y="509.6" width="5" height="5" fill="#555"/>
<path d="M532.82,531.2 L532.82,511.5 A6.5,6.5 0 0 1 545.82,511.5 L545.82,531.2" fill="none" stroke="#1f1f1f" stroke-width="1.2"/>
<rect x="536.82" y="509.6" width="5" height="5" fill="#555"/>
<path d="M551,531.2 L551,511.5 A6.5,6.5 0 0 1 564,511.5 L564,531.2" fill="none" stroke="#1f1f1f" stroke-width="1.2"/>
<rect x="555" y="509.6" width="5" height="5" fill="#555"/>
<line x1="284.5" y1="494" x2="284.5" y2="578.9" stroke="#555" stroke-width="1"/>
<line x1="557.5" y1="494" x2="557.5" y2="578.9" stroke="#555" stroke-width="1"/>
<line x1="231.5" y1="540" x2="231.5" y2="578" stroke="#555" stroke-width="1"/>
<line x1="192" y1="572.5" x2="557.5" y2="572.5" stroke="#555" stroke-width="1"/>
<polygon points="231.5,572.6 241.5,570.4 241.5,574.8" fill="#1a1a1a"/>
<polygon points="284.8,572.6 274.8,570.4 274.8,574.8" fill="#1a1a1a"/>
<polygon points="284.8,572.6 294.8,570.4 294.8,574.8" fill="#1a1a1a"/>
<polygon points="557.5,572.6 547.5,570.4 547.5,574.8" fill="#1a1a1a"/>
<text x="195" y="568.7" font-size="17.44" font-weight="normal" font-style="normal" font-family="Liberation Sans" fill="#222" textLength="23.4" lengthAdjust="spacingAndGlyphs" stroke="#fff" stroke-width="0.23">7.5</text>
<text x="346.6" y="569.3" font-size="17.44" font-weight="normal" font-style="normal" font-family="Liberation Sans" fill="#222" textLength="148.4" lengthAdjust="spacingAndGlyphs" stroke="#fff" stroke-width="0.23">P2.54x(16−1)=38.1</text>
<text x="263.7" y="552.9" font-size="16.57" font-family="Liberation Sans" fill="#222" textLength="27.6" lengthAdjust="spacingAndGlyphs" transform="rotate(-90 277.5 547.2)" stroke="#fff" stroke-width="0.16">PIN1</text>
<text x="551.1" y="559.4" font-size="16.57" font-family="Liberation Sans" fill="#222" textLength="36.6" lengthAdjust="spacingAndGlyphs" transform="rotate(-90 569.4 553.7)" stroke="#fff" stroke-width="0.16">PIN16</text>
<path d="M741,562.7 L868,562.7 L904,521" fill="none" stroke="#1f1f1f" stroke-width="1"/>
<polygon points="904.5,520.5 896.5,530.5 900.5,533.5" fill="#1a1a1a"/>
<path d="M720.6,582.9 L892.7,582.9 L905.5,532" fill="none" stroke="#1f1f1f" stroke-width="1"/>
<polygon points="905.8,531.5 899.7,541.5 904.5,542.7" fill="#1a1a1a"/>
<path d="M906,530 L915.5,495" fill="none" stroke="#444" stroke-width="0.9"/>
<path d="M906,518.4 L913.4,506.5" fill="none" stroke="#444" stroke-width="0.9"/>
<text x="741" y="560.5" font-size="16.42" font-weight="normal" font-style="normal" font-family="Liberation Sans" fill="#222" textLength="55" lengthAdjust="spacingAndGlyphs" stroke="#fff" stroke-width="0.15">4−ø2.5</text>
<text x="797" y="560.5" font-size="10.47" font-weight="normal" font-style="normal" font-family="Liberation Sans" fill="#222" textLength="23" lengthAdjust="spacingAndGlyphs">±0.2</text>
<text x="821" y="560.5" font-size="16.42" font-weight="normal" font-style="normal" font-family="Liberation Sans" fill="#222" textLength="45" lengthAdjust="spacingAndGlyphs" stroke="#fff" stroke-width="0.15">(PTH)</text>
<text x="720.6" y="580.8" font-size="16.42" font-weight="normal" font-style="normal" font-family="Liberation Sans" fill="#222" textLength="56" lengthAdjust="spacingAndGlyphs" stroke="#fff" stroke-width="0.15">4−ø4.8</text>
<text x="777.6" y="580.8" font-size="10.47" font-weight="normal" font-style="normal" font-family="Liberation Sans" fill="#222" textLength="23" lengthAdjust="spacingAndGlyphs">±0.2</text>
<text x="801.6" y="580.8" font-size="16.42" font-weight="normal" font-style="normal" font-family="Liberation Sans" fill="#222" textLength="33.4" lengthAdjust="spacingAndGlyphs" stroke="#fff" stroke-width="0.15">(Cu)</text>
<line x1="1008.5" y1="116" x2="1008.5" y2="563.8" stroke="#555" stroke-width="1"/>
<line x1="1069.5" y1="138.6" x2="1069.5" y2="227" stroke="#555" stroke-width="1"/>
<line x1="1081.5" y1="116.7" x2="1081.5" y2="227" stroke="#555" stroke-width="1"/>
<line x1="1008.6" y1="122.5" x2="1123" y2="122.5" stroke="#555" stroke-width="1"/>
<polygon points="1008.6,122.8 1018.6,120.6 1018.6,125" fill="#1a1a1a"/>
<polygon points="1081.2,122.8 1071.2,120.6 1071.2,125" fill="#1a1a1a"/>
<text x="1094.5" y="119.4" font-size="16.57" font-weight="normal" font-style="normal" font-family="Liberation Sans" fill="#222" textLength="25.5" lengthAdjust="spacingAndGlyphs" stroke="#fff" stroke-width="0.16">10.1</text>
<line x1="1048.4" y1="145.5" x2="1128" y2="145.5" stroke="#555" stroke-width="1"/>
<polygon points="1069.7,145.4 1059.7,143.2 1059.7,147.6" fill="#1a1a1a"/>
<polygon points="1081.2,145.4 1091.2,143.2 1091.2,147.6" fill="#1a1a1a"/>
<text x="1105.4" y="142.5" font-size="16.57" font-weight="normal" font-style="normal" font-family="Liberation Sans" fill="#222" textLength="19.2" lengthAdjust="spacingAndGlyphs" stroke="#fff" stroke-width="0.16">1.6</text>
<rect x="1069.5" y="231.5" width="12" height="300" fill="none" stroke="#1f1f1f" stroke-width="1.2"/>
<line x1="1069.7" y1="231" x2="1081.2" y2="231" stroke="#555" stroke-width="2"/>
<path d="M1008.9,253.5 Q1010,246.9 1016,246.9 L1069.6,246.9" fill="none" stroke="#1f1f1f" stroke-width="1.5"/>
<path d="M1014,254.6 Q1015,251.4 1018.5,251.4 L1069.6,251.4" fill="none" stroke="#333" stroke-width="1.1"/>
<path d="M1008.6,254.6 L1061.3,254.6 L1061.3,482.6 L1008.6,482.6" fill="none" stroke="#1f1f1f" stroke-width="1.2"/>
<path d="M1008.9,484 Q1010,490.8 1016,490.8 L1069.6,490.8" fill="none" stroke="#1f1f1f" stroke-width="1.3"/>
<path d="M1014,482.6 Q1015,485.8 1018.5,485.8 L1069.6,485.8" fill="none" stroke="#333" stroke-width="1.1"/>
<line x1="1063.3" y1="246.9" x2="1063.3" y2="251.4" stroke="#444" stroke-width="0.9"/>
<line x1="1063.3" y1="485.8" x2="1063.3" y2="490.8" stroke="#444" stroke-width="0.9"/>
<line x1="1067.3" y1="246.9" x2="1067.3" y2="251.4" stroke="#444" stroke-width="0.9"/>
<line x1="1067.3" y1="485.8" x2="1067.3" y2="490.8" stroke="#444" stroke-width="0.9"/>
<line x1="1061.3" y1="273.5" x2="1069.7" y2="273.5" stroke="#555" stroke-width="1"/>
<line x1="1061.3" y1="464.5" x2="1069.7" y2="464.5" stroke="#555" stroke-width="1"/>
<line x1="1017" y1="253.5" x2="1025" y2="253.5" stroke="#888" stroke-width="1.5"/>
<line x1="1017" y1="483.5" x2="1025" y2="483.5" stroke="#888" stroke-width="1.5"/>
<rect x="1064.5" y="333.5" width="5" height="74" fill="none" stroke="#1f1f1f" stroke-width="1.1"/>
<path d="M1064.6,340 A4,7.8 0 0 0 1064.6,355.7" fill="none" stroke="#1f1f1f" stroke-width="1"/>
<path d="M1064.6,380 A4,7.4 0 0 0 1064.6,394.7" fill="none" stroke="#1f1f1f" stroke-width="1"/>
<path d="M1081.2,344.4 Q1084.5,346.9 1085.5,346.9 L1092,346.9 L1092,351.9 L1085.5,351.9 Q1084.5,351.9 1081.2,354.4" fill="none" stroke="#1f1f1f" stroke-width="1"/>
<path d="M1081.2,383 Q1084.5,385.5 1085.5,385.5 L1092,385.5 L1092,390.5 L1085.5,390.5 Q1084.5,390.5 1081.2,393" fill="none" stroke="#1f1f1f" stroke-width="1"/>
<path d="M1081.4,247.5 Q1088,251 1090,268.5 L1086,270.5 Q1085,259 1081.8,251.5" fill="none" stroke="#1f1f1f" stroke-width="1.1"/>
<path d="M1081.5,490.4 Q1087,485 1090,468.5 L1086.5,467 Q1084.5,480 1081.5,486" fill="none" stroke="#1f1f1f" stroke-width="1.1"/>
<path d="M1069.6,505.3 L1062.5,512 L1068.8,531" fill="none" stroke="#1f1f1f" stroke-width="1.1"/>
<rect x="1081.5" y="502.5" width="18" height="19" fill="none" stroke="#1f1f1f" stroke-width="1.1"/>
<line x1="1081.3" y1="505.5" x2="1099" y2="505.5" stroke="#555" stroke-width="1.5"/>
<line x1="1081.3" y1="517.5" x2="1099" y2="517.5" stroke="#555" stroke-width="1"/>
<rect x="1099.5" y="509.5" width="34" height="5" fill="none" stroke="#1f1f1f" stroke-width="1"/>
<line x1="1102.5" y1="230" x2="1102.5" y2="532.5" stroke="#555" stroke-width="1" stroke-dasharray="4 3"/>
<line x1="1102.5" y1="535" x2="1102.5" y2="563.8" stroke="#555" stroke-width="1"/>
<line x1="1081.5" y1="535" x2="1081.5" y2="588" stroke="#555" stroke-width="1"/>
<line x1="1133.5" y1="514.5" x2="1133.5" y2="588" stroke="#555" stroke-width="1"/>
<text x="1029" y="375.4" font-size="15.7" font-family="Liberation Sans" fill="#222" textLength="176" lengthAdjust="spacingAndGlyphs" transform="rotate(-90 1117 370)" stroke="#fff" stroke-width="0.08">Component Height</text>
<line x1="928.6" y1="558.5" x2="1102" y2="558.5" stroke="#555" stroke-width="1"/>
<polygon points="1008.6,558.4 1018.6,556.2 1018.6,560.6" fill="#1a1a1a"/>
<polygon points="1102,558.4 1092,556.2 1092,560.6" fill="#1a1a1a"/>
<text x="930.4" y="555" font-size="17.44" font-weight="normal" font-style="normal" font-family="Liberation Sans" fill="#222" textLength="66.3" lengthAdjust="spacingAndGlyphs" stroke="#fff" stroke-width="0.23">13.0MAX.</text>
<line x1="1027.2" y1="582.5" x2="1133.4" y2="582.5" stroke="#555" stroke-width="1"/>
<polygon points="1081.2,582.2 1091.2,580 1091.2,584.4" fill="#1a1a1a"/>
<polygon points="1133.4,582.2 1123.4,580 1123.4,584.4" fill="#1a1a1a"/>
<text x="1029" y="579" font-size="17.44" font-weight="normal" font-style="normal" font-family="Liberation Sans" fill="#222" textLength="39.4" lengthAdjust="spacingAndGlyphs" stroke="#fff" stroke-width="0.23">(7.3)</text>
<rect x="1266.5" y="26.5" width="113" height="319" fill="none" stroke="#1f1f1f" stroke-width="1.5"/>
<line x1="1266.1" y1="43.5" x2="1379.2" y2="43.5" stroke="#6a6a6a" stroke-width="1.7"/>
<line x1="1266.1" y1="61.5" x2="1379.2" y2="61.5" stroke="#6a6a6a" stroke-width="1.7"/>
<line x1="1266.1" y1="78.5" x2="1379.2" y2="78.5" stroke="#6a6a6a" stroke-width="1.7"/>
<line x1="1266.1" y1="96.5" x2="1379.2" y2="96.5" stroke="#6a6a6a" stroke-width="1.7"/>
<line x1="1266.1" y1="114.5" x2="1379.2" y2="114.5" stroke="#6a6a6a" stroke-width="1.7"/>
<line x1="1266.1" y1="132.5" x2="1379.2" y2="132.5" stroke="#6a6a6a" stroke-width="1.7"/>
<line x1="1266.1" y1="150.5" x2="1379.2" y2="150.5" stroke="#6a6a6a" stroke-width="1.7"/>
<line x1="1266.1" y1="167.5" x2="1379.2" y2="167.5" stroke="#6a6a6a" stroke-width="1.7"/>
<line x1="1266.1" y1="185.5" x2="1379.2" y2="185.5" stroke="#6a6a6a" stroke-width="1.7"/>
<line x1="1266.1" y1="203.5" x2="1379.2" y2="203.5" stroke="#6a6a6a" stroke-width="1.7"/>
<line x1="1266.1" y1="221.5" x2="1379.2" y2="221.5" stroke="#6a6a6a" stroke-width="1.7"/>
<line x1="1266.1" y1="239.5" x2="1379.2" y2="239.5" stroke="#6a6a6a" stroke-width="1.7"/>
<line x1="1266.1" y1="256.5" x2="1379.2" y2="256.5" stroke="#6a6a6a" stroke-width="1.7"/>
<line x1="1266.1" y1="274.5" x2="1379.2" y2="274.5" stroke="#6a6a6a" stroke-width="1.7"/>
<line x1="1266.1" y1="292.5" x2="1379.2" y2="292.5" stroke="#6a6a6a" stroke-width="1.7"/>
<line x1="1266.1" y1="310.5" x2="1379.2" y2="310.5" stroke="#6a6a6a" stroke-width="1.7"/>
<line x1="1266.1" y1="328.5" x2="1379.2" y2="328.5" stroke="#6a6a6a" stroke-width="1.7"/>
<line x1="1290.5" y1="43.2" x2="1290.5" y2="345.8" stroke="#1f1f1f" stroke-width="1.3"/>
<text x="1289" y="40.9" font-size="16.28" font-weight="normal" font-style="normal" font-family="Liberation Sans" fill="#222" textLength="66" lengthAdjust="spacingAndGlyphs" stroke="#fff" stroke-width="0.13">Terminal</text>
<text x="1267.2" y="58.6" font-size="16.28" font-weight="normal" font-style="normal" font-family="Liberation Sans" fill="#222" textLength="22.2" lengthAdjust="spacingAndGlyphs" stroke="#fff" stroke-width="0.13">No.</text>
<text x="1298.4" y="58.6" font-size="16.28" font-weight="normal" font-style="normal" font-family="Liberation Sans" fill="#222" textLength="69.6" lengthAdjust="spacingAndGlyphs" stroke="#fff" stroke-width="0.13">Pin Name</text>
<text x="1272.5" y="75.6" font-size="16.28" font-weight="normal" font-style="normal" font-family="Liberation Sans" fill="#222" stroke="#fff" stroke-width="0.13">1</text>
<text x="1298.4" y="75.6" font-size="16.28" font-weight="normal" font-style="normal" font-family="Liberation Sans" fill="#222" textLength="31" lengthAdjust="spacingAndGlyphs" stroke="#fff" stroke-width="0.13">VSS</text>
<text x="1272.5" y="93.4" font-size="16.28" font-weight="normal" font-style="normal" font-family="Liberation Sans" fill="#222" stroke="#fff" stroke-width="0.13">2</text>
<text x="1298.4" y="93.4" font-size="16.28" font-weight="normal" font-style="normal" font-family="Liberation Sans" fill="#222" textLength="31.4" lengthAdjust="spacingAndGlyphs" stroke="#fff" stroke-width="0.13">VDD</text>
<text x="1272.5" y="111.2" font-size="16.28" font-weight="normal" font-style="normal" font-family="Liberation Sans" fill="#222" stroke="#fff" stroke-width="0.13">3</text>
<text x="1298.4" y="111.2" font-size="16.28" font-weight="normal" font-style="normal" font-family="Liberation Sans" fill="#222" textLength="20.3" lengthAdjust="spacingAndGlyphs" stroke="#fff" stroke-width="0.13">V0</text>
<text x="1272.5" y="129" font-size="16.28" font-weight="normal" font-style="normal" font-family="Liberation Sans" fill="#222" stroke="#fff" stroke-width="0.13">4</text>
<text x="1298.4" y="129" font-size="16.28" font-weight="normal" font-style="normal" font-family="Liberation Sans" fill="#222" textLength="18.6" lengthAdjust="spacingAndGlyphs" stroke="#fff" stroke-width="0.13">RS</text>
<text x="1272.5" y="146.8" font-size="16.28" font-weight="normal" font-style="normal" font-family="Liberation Sans" fill="#222" stroke="#fff" stroke-width="0.13">5</text>
<text x="1298.4" y="146.8" font-size="16.28" font-weight="normal" font-style="normal" font-family="Liberation Sans" fill="#222" textLength="30.6" lengthAdjust="spacingAndGlyphs" stroke="#fff" stroke-width="0.13">R/W</text>
<text x="1272.5" y="164.6" font-size="16.28" font-weight="normal" font-style="normal" font-family="Liberation Sans" fill="#222" stroke="#fff" stroke-width="0.13">6</text>
<text x="1298.4" y="164.6" font-size="16.28" font-weight="normal" font-style="normal" font-family="Liberation Sans" fill="#222" textLength="7.6" lengthAdjust="spacingAndGlyphs" stroke="#fff" stroke-width="0.13">E</text>
<text x="1272.5" y="182.4" font-size="16.28" font-weight="normal" font-style="normal" font-family="Liberation Sans" fill="#222" stroke="#fff" stroke-width="0.13">7</text>
<text x="1298.4" y="182.4" font-size="16.28" font-weight="normal" font-style="normal" font-family="Liberation Sans" fill="#222" textLength="26.3" lengthAdjust="spacingAndGlyphs" stroke="#fff" stroke-width="0.13">DB0</text>
<text x="1272.5" y="200.2" font-size="16.28" font-weight="normal" font-style="normal" font-family="Liberation Sans" fill="#222" stroke="#fff" stroke-width="0.13">8</text>
<text x="1298.4" y="200.2" font-size="16.28" font-weight="normal" font-style="normal" font-family="Liberation Sans" fill="#222" textLength="24.5" lengthAdjust="spacingAndGlyphs" stroke="#fff" stroke-width="0.13">DB1</text>
<text x="1272.5" y="218" font-size="16.28" font-weight="normal" font-style="normal" font-family="Liberation Sans" fill="#222" stroke="#fff" stroke-width="0.13">9</text>
<text x="1298.4" y="218" font-size="16.28" font-weight="normal" font-style="normal" font-family="Liberation Sans" fill="#222" textLength="26" lengthAdjust="spacingAndGlyphs" stroke="#fff" stroke-width="0.13">DB2</text>
<text x="1272.5" y="235.8" font-size="16.28" font-weight="normal" font-style="normal" font-family="Liberation Sans" fill="#222" stroke="#fff" stroke-width="0.13">10</text>
<text x="1298.4" y="235.8" font-size="16.28" font-weight="normal" font-style="normal" font-family="Liberation Sans" fill="#222" textLength="26" lengthAdjust="spacingAndGlyphs" stroke="#fff" stroke-width="0.13">DB3</text>
<text x="1272.5" y="253.6" font-size="16.28" font-weight="normal" font-style="normal" font-family="Liberation Sans" fill="#222" stroke="#fff" stroke-width="0.13">11</text>
<text x="1298.4" y="253.6" font-size="16.28" font-weight="normal" font-style="normal" font-family="Liberation Sans" fill="#222" textLength="26" lengthAdjust="spacingAndGlyphs" stroke="#fff" stroke-width="0.13">DB4</text>
<text x="1272.5" y="271.4" font-size="16.28" font-weight="normal" font-style="normal" font-family="Liberation Sans" fill="#222" stroke="#fff" stroke-width="0.13">12</text>
<text x="1298.4" y="271.4" font-size="16.28" font-weight="normal" font-style="normal" font-family="Liberation Sans" fill="#222" textLength="26" lengthAdjust="spacingAndGlyphs" stroke="#fff" stroke-width="0.13">DB5</text>
<text x="1272.5" y="289.2" font-size="16.28" font-weight="normal" font-style="normal" font-family="Liberation Sans" fill="#222" stroke="#fff" stroke-width="0.13">13</text>
<text x="1298.4" y="289.2" font-size="16.28" font-weight="normal" font-style="normal" font-family="Liberation Sans" fill="#222" textLength="26" lengthAdjust="spacingAndGlyphs" stroke="#fff" stroke-width="0.13">DB6</text>
<text x="1272.5" y="307" font-size="16.28" font-weight="normal" font-style="normal" font-family="Liberation Sans" fill="#222" stroke="#fff" stroke-width="0.13">14</text>
<text x="1298.4" y="307" font-size="16.28" font-weight="normal" font-style="normal" font-family="Liberation Sans" fill="#222" textLength="26" lengthAdjust="spacingAndGlyphs" stroke="#fff" stroke-width="0.13">DB7</text>
<text x="1272.5" y="324.8" font-size="16.28" font-weight="normal" font-style="normal" font-family="Liberation Sans" fill="#222" stroke="#fff" stroke-width="0.13">15</text>
<text x="1298.4" y="324.8" font-size="16.28" font-weight="normal" font-style="normal" font-family="Liberation Sans" fill="#222" textLength="27.2" lengthAdjust="spacingAndGlyphs" stroke="#fff" stroke-width="0.13">BLK</text>
<text x="1272.5" y="342.6" font-size="16.28" font-weight="normal" font-style="normal" font-family="Liberation Sans" fill="#222" stroke="#fff" stroke-width="0.13">16</text>
<text x="1298.4" y="342.6" font-size="16.28" font-weight="normal" font-style="normal" font-family="Liberation Sans" fill="#222" textLength="27.6" lengthAdjust="spacingAndGlyphs" stroke="#fff" stroke-width="0.13">BLA</text>
<rect x="1236.5" y="539.5" width="15" height="20" rx="1.2" fill="none" stroke="#555" stroke-width="1.5"/>
<rect x="1253.5" y="539.5" width="15" height="20" rx="1.2" fill="none" stroke="#555" stroke-width="1.5"/>
<rect x="1270.5" y="539.5" width="15" height="20" rx="1.2" fill="none" stroke="#555" stroke-width="1.5"/>
<rect x="1287.5" y="539.5" width="15" height="20" rx="1.2" fill="none" stroke="#555" stroke-width="1.5"/>
<rect x="1304.5" y="539.5" width="15" height="20" rx="1.2" fill="none" stroke="#555" stroke-width="1.5"/>
<rect x="1335.5" y="539.5" width="16" height="20" rx="1.2" fill="none" stroke="#555" stroke-width="1.5"/>
<rect x="1236.5" y="561.5" width="15" height="19" rx="1.2" fill="none" stroke="#555" stroke-width="1.5"/>
<rect x="1253.5" y="561.5" width="15" height="19" rx="1.2" fill="none" stroke="#555" stroke-width="1.5"/>
<rect x="1270.5" y="561.5" width="15" height="19" rx="1.2" fill="none" stroke="#555" stroke-width="1.5"/>
<rect x="1287.5" y="561.5" width="15" height="19" rx="1.2" fill="none" stroke="#555" stroke-width="1.5"/>
<rect x="1304.5" y="561.5" width="15" height="19" rx="1.2" fill="none" stroke="#555" stroke-width="1.5"/>
<rect x="1335.5" y="561.5" width="16" height="19" rx="1.2" fill="none" stroke="#555" stroke-width="1.5"/>
<rect x="1236.5" y="582.5" width="15" height="20" rx="1.2" fill="none" stroke="#555" stroke-width="1.5"/>
<rect x="1253.5" y="582.5" width="15" height="20" rx="1.2" fill="none" stroke="#555" stroke-width="1.5"/>
<rect x="1270.5" y="582.5" width="15" height="20" rx="1.2" fill="none" stroke="#555" stroke-width="1.5"/>
<rect x="1287.5" y="582.5" width="15" height="20" rx="1.2" fill="none" stroke="#555" stroke-width="1.5"/>
<rect x="1304.5" y="582.5" width="15" height="20" rx="1.2" fill="none" stroke="#555" stroke-width="1.5"/>
<rect x="1335.5" y="582.5" width="16" height="20" rx="1.2" fill="none" stroke="#555" stroke-width="1.5"/>
<rect x="1236.5" y="604.5" width="15" height="20" rx="1.2" fill="none" stroke="#555" stroke-width="1.5"/>
<rect x="1253.5" y="604.5" width="15" height="20" rx="1.2" fill="none" stroke="#555" stroke-width="1.5"/>
<rect x="1270.5" y="604.5" width="15" height="20" rx="1.2" fill="none" stroke="#555" stroke-width="1.5"/>
<rect x="1287.5" y="604.5" width="15" height="20" rx="1.2" fill="none" stroke="#555" stroke-width="1.5"/>
<rect x="1304.5" y="604.5" width="15" height="20" rx="1.2" fill="none" stroke="#555" stroke-width="1.5"/>
<rect x="1335.5" y="604.5" width="16" height="20" rx="1.2" fill="none" stroke="#555" stroke-width="1.5"/>
<rect x="1236.5" y="626.5" width="15" height="19" rx="1.2" fill="none" stroke="#555" stroke-width="1.5"/>
<rect x="1253.5" y="626.5" width="15" height="19" rx="1.2" fill="none" stroke="#555" stroke-width="1.5"/>
<rect x="1270.5" y="626.5" width="15" height="19" rx="1.2" fill="none" stroke="#555" stroke-width="1.5"/>
<rect x="1287.5" y="626.5" width="15" height="19" rx="1.2" fill="none" stroke="#555" stroke-width="1.5"/>
<rect x="1304.5" y="626.5" width="15" height="19" rx="1.2" fill="none" stroke="#555" stroke-width="1.5"/>
<rect x="1335.5" y="626.5" width="16" height="19" rx="1.2" fill="none" stroke="#555" stroke-width="1.5"/>
<rect x="1236.5" y="647.5" width="15" height="20" rx="1.2" fill="none" stroke="#555" stroke-width="1.5"/>
<rect x="1253.5" y="647.5" width="15" height="20" rx="1.2" fill="none" stroke="#555" stroke-width="1.5"/>
<rect x="1270.5" y="647.5" width="15" height="20" rx="1.2" fill="none" stroke="#555" stroke-width="1.5"/>
<rect x="1287.5" y="647.5" width="15" height="20" rx="1.2" fill="none" stroke="#555" stroke-width="1.5"/>
<rect x="1304.5" y="647.5" width="15" height="20" rx="1.2" fill="none" stroke="#555" stroke-width="1.5"/>
<rect x="1335.5" y="647.5" width="16" height="20" rx="1.2" fill="none" stroke="#555" stroke-width="1.5"/>
<rect x="1236.5" y="669.5" width="15" height="20" rx="1.2" fill="none" stroke="#555" stroke-width="1.5"/>
<rect x="1253.5" y="669.5" width="15" height="20" rx="1.2" fill="none" stroke="#555" stroke-width="1.5"/>
<rect x="1270.5" y="669.5" width="15" height="20" rx="1.2" fill="none" stroke="#555" stroke-width="1.5"/>
<rect x="1287.5" y="669.5" width="15" height="20" rx="1.2" fill="none" stroke="#555" stroke-width="1.5"/>
<rect x="1304.5" y="669.5" width="15" height="20" rx="1.2" fill="none" stroke="#555" stroke-width="1.5"/>
<rect x="1335.5" y="669.5" width="16" height="20" rx="1.2" fill="none" stroke="#555" stroke-width="1.5"/>
<rect x="1236.5" y="691.5" width="15" height="19" rx="1.2" fill="none" stroke="#555" stroke-width="1.5"/>
<rect x="1253.5" y="691.5" width="15" height="19" rx="1.2" fill="none" stroke="#555" stroke-width="1.5"/>
<rect x="1270.5" y="691.5" width="15" height="19" rx="1.2" fill="none" stroke="#555" stroke-width="1.5"/>
<rect x="1287.5" y="691.5" width="15" height="19" rx="1.2" fill="none" stroke="#555" stroke-width="1.5"/>
<rect x="1304.5" y="691.5" width="15" height="19" rx="1.2" fill="none" stroke="#555" stroke-width="1.5"/>
<rect x="1335.5" y="691.5" width="16" height="19" rx="1.2" fill="none" stroke="#555" stroke-width="1.5"/>
<rect x="1236.5" y="722.5" width="15" height="19" rx="1.2" fill="none" stroke="#333" stroke-width="1.6"/>
<rect x="1253.5" y="722.5" width="15" height="19" rx="1.2" fill="none" stroke="#333" stroke-width="1.6"/>
<rect x="1270.5" y="722.5" width="15" height="19" rx="1.2" fill="none" stroke="#333" stroke-width="1.6"/>
<rect x="1287.5" y="722.5" width="15" height="19" rx="1.2" fill="none" stroke="#333" stroke-width="1.6"/>
<rect x="1304.5" y="722.5" width="15" height="19" rx="1.2" fill="none" stroke="#333" stroke-width="1.6"/>
<rect x="1335.5" y="722.5" width="16" height="19" rx="1.2" fill="none" stroke="#333" stroke-width="1.6"/>
<line x1="1236.5" y1="465" x2="1236.5" y2="537" stroke="#555" stroke-width="1"/>
<line x1="1252.5" y1="500.3" x2="1252.5" y2="537" stroke="#555" stroke-width="1"/>
<line x1="1319.5" y1="482.7" x2="1319.5" y2="537" stroke="#555" stroke-width="1"/>
<line x1="1335.5" y1="465" x2="1335.5" y2="537" stroke="#555" stroke-width="1"/>
<line x1="1236.6" y1="467.5" x2="1335.4" y2="467.5" stroke="#555" stroke-width="1"/>
<polygon points="1236.6,467.4 1246.6,465.2 1246.6,469.6" fill="#1a1a1a"/>
<polygon points="1335.4,467.4 1325.4,465.2 1325.4,469.6" fill="#1a1a1a"/>
<text x="1261.4" y="465.8" font-size="16.28" font-weight="normal" font-style="normal" font-family="Liberation Sans" fill="#222" textLength="31.2" lengthAdjust="spacingAndGlyphs" stroke="#fff" stroke-width="0.13">4.82</text>
<line x1="1236.6" y1="485.5" x2="1319.9" y2="485.5" stroke="#555" stroke-width="1"/>
<polygon points="1236.6,485 1246.6,482.8 1246.6,487.2" fill="#1a1a1a"/>
<polygon points="1319.9,485 1309.9,482.8 1309.9,487.2" fill="#1a1a1a"/>
<text x="1264" y="483" font-size="16.28" font-weight="normal" font-style="normal" font-family="Liberation Sans" fill="#222" textLength="28.6" lengthAdjust="spacingAndGlyphs" stroke="#fff" stroke-width="0.13">4.07</text>
<line x1="1215.7" y1="501.5" x2="1306.2" y2="501.5" stroke="#555" stroke-width="1"/>
<polygon points="1236.6,501.9 1226.6,499.7 1226.6,504.1" fill="#1a1a1a"/>
<polygon points="1253.3,501.9 1263.3,499.7 1263.3,504.1" fill="#1a1a1a"/>
<text x="1274.7" y="501" font-size="16.28" font-weight="normal" font-style="normal" font-family="Liberation Sans" fill="#222" textLength="30.7" lengthAdjust="spacingAndGlyphs" stroke="#fff" stroke-width="0.13">0.83</text>
<line x1="1215.7" y1="519.5" x2="1306" y2="519.5" stroke="#555" stroke-width="1"/>
<polygon points="1236.6,519.5 1226.6,517.3 1226.6,521.7" fill="#1a1a1a"/>
<polygon points="1252.3,519.5 1262.3,517.3 1262.3,521.7" fill="#1a1a1a"/>
<text x="1273" y="519" font-size="16.28" font-weight="normal" font-style="normal" font-family="Liberation Sans" fill="#222" textLength="31" lengthAdjust="spacingAndGlyphs" stroke="#fff" stroke-width="0.13">0.75</text>
<line x1="1169.2" y1="539.5" x2="1234.1" y2="539.5" stroke="#555" stroke-width="1"/>
<line x1="1202.9" y1="560.5" x2="1234.1" y2="560.5" stroke="#555" stroke-width="1.4"/>
<line x1="1185.8" y1="710.5" x2="1234.5" y2="710.5" stroke="#555" stroke-width="1"/>
<line x1="1170" y1="722.5" x2="1234.5" y2="722.5" stroke="#555" stroke-width="1.5"/>
<line x1="1170.5" y1="539.5" x2="1170.5" y2="722" stroke="#555" stroke-width="1.3"/>
<polygon points="1170.7,539.5 1168.5,549.5 1172.9,549.5" fill="#1a1a1a"/>
<polygon points="1170.7,722 1168.5,712 1172.9,712" fill="#1a1a1a"/>
<line x1="1187.5" y1="539.5" x2="1187.5" y2="710.8" stroke="#555" stroke-width="1"/>
<polygon points="1187.7,539.5 1185.5,549.5 1189.9,549.5" fill="#1a1a1a"/>
<polygon points="1187.7,710.8 1185.5,700.8 1189.9,700.8" fill="#1a1a1a"/>
<line x1="1204.5" y1="517" x2="1204.5" y2="618" stroke="#555" stroke-width="1"/>
<polygon points="1204.2,539.5 1202,529.5 1206.4,529.5" fill="#1a1a1a"/>
<polygon points="1204.2,561.2 1202,571.2 1206.4,571.2" fill="#1a1a1a"/>
<line x1="1220.5" y1="517" x2="1220.5" y2="612.5" stroke="#555" stroke-width="1"/>
<polygon points="1220,539.5 1217.8,529.5 1222.2,529.5" fill="#1a1a1a"/>
<polygon points="1220,559.1 1217.8,569.1 1222.2,569.1" fill="#1a1a1a"/>
<text x="1148.05" y="603.15" font-size="16.28" font-family="Liberation Sans" fill="#222" textLength="34.3" lengthAdjust="spacingAndGlyphs" transform="rotate(-90 1165.2 597.55)" stroke="#fff" stroke-width="0.13">8.26</text>
<text x="1165.05" y="603.95" font-size="16.28" font-family="Liberation Sans" fill="#222" textLength="32.7" lengthAdjust="spacingAndGlyphs" transform="rotate(-90 1181.4 598.35)" stroke="#fff" stroke-width="0.13">7.76</text>
<text x="1181.3" y="606" font-size="16.28" font-family="Liberation Sans" fill="#222" textLength="32.8" lengthAdjust="spacingAndGlyphs" transform="rotate(-90 1197.7 600.4)" stroke="#fff" stroke-width="0.13">0.98</text>
<text x="1203.4" y="606.3" font-size="16.28" font-family="Liberation Sans" fill="#222" textLength="21.4" lengthAdjust="spacingAndGlyphs" transform="rotate(-90 1214.1 600.7)" stroke="#fff" stroke-width="0.13">0.9</text>
<text x="1210.7" y="783.7" font-size="15.7" font-weight="normal" font-style="normal" font-family="Liberation Sans" fill="#222" textLength="112.7" lengthAdjust="spacingAndGlyphs" stroke="#fff" stroke-width="0.08">Pixels Details</text>
<line x1="1210.7" y1="784.5" x2="1326" y2="784.5" stroke="#555" stroke-width="1"/>
<text x="1228" y="801" font-size="15.7" font-weight="normal" font-style="normal" font-family="Liberation Sans" fill="#222" textLength="79.1" lengthAdjust="spacingAndGlyphs" stroke="#fff" stroke-width="0.08">Scale=6/1</text>
<line x1="1228" y1="802.5" x2="1309.3" y2="802.5" stroke="#555" stroke-width="1"/>
<line x1="286.3" y1="632.5" x2="354.9" y2="632.5" stroke="#555" stroke-width="1"/>
<line x1="354.9" y1="632.5" x2="388" y2="632.5" stroke="#555" stroke-width="1" stroke-dasharray="4 2"/>
<line x1="388" y1="632.5" x2="496.6" y2="632.5" stroke="#555" stroke-width="1"/>
<rect x="496.5" y="627.5" width="27" height="11" fill="none" stroke="#1f1f1f" stroke-width="1.1"/>
<line x1="523.3" y1="632.5" x2="540" y2="632.5" stroke="#555" stroke-width="1"/>
<text x="543.4" y="638.6" font-size="14.53" font-weight="normal" font-style="normal" font-family="Liberation Sans" fill="#222" textLength="24" lengthAdjust="spacingAndGlyphs">BLA</text>
<line x1="286.3" y1="756.5" x2="354.9" y2="756.5" stroke="#555" stroke-width="1"/>
<line x1="354.9" y1="756.5" x2="388" y2="756.5" stroke="#555" stroke-width="1" stroke-dasharray="4 2"/>
<line x1="388" y1="756.5" x2="540" y2="756.5" stroke="#555" stroke-width="1"/>
<text x="545.7" y="763.1" font-size="14.53" font-weight="normal" font-style="normal" font-family="Liberation Sans" fill="#222" textLength="24" lengthAdjust="spacingAndGlyphs">BLK</text>
<line x1="286.5" y1="632.9" x2="286.5" y2="756.3" stroke="#555" stroke-width="1.1"/>
<polygon points="275.3,657.5 297.3,657.5 286.3,676.1" fill="#fff"/>
<path d="M275.3,657.5 L297.3,657.5 L286.3,676.1 Z" fill="none" stroke="#1f1f1f" stroke-width="1.1"/>
<rect x="274.5" y="676.5" width="23" height="6" fill="#fff" stroke="#1f1f1f" stroke-width="1.1"/>
<path d="M274.3,669 L266.8,660.5" fill="none" stroke="#333" stroke-width="0.9"/>
<polygon points="266,659.7 270.5,659.9 266.2,664.3" fill="#333"/>
<path d="M274.3,675.5 L266.8,667" fill="none" stroke="#333" stroke-width="0.9"/>
<polygon points="266,666.2 270.5,666.4 266.2,670.8" fill="#333"/>
<polygon points="275.3,707.1 297.3,707.1 286.3,725.5" fill="#fff"/>
<path d="M275.3,707.1 L297.3,707.1 L286.3,725.5 Z" fill="none" stroke="#1f1f1f" stroke-width="1.1"/>
<rect x="274.5" y="726.5" width="23" height="6" fill="#fff" stroke="#1f1f1f" stroke-width="1.1"/>
<path d="M274.3,718.6 L266.8,710.1" fill="none" stroke="#333" stroke-width="0.9"/>
<polygon points="266,709.3 270.5,709.5 266.2,713.9" fill="#333"/>
<path d="M274.3,725.1 L266.8,716.6" fill="none" stroke="#333" stroke-width="0.9"/>
<polygon points="266,715.8 270.5,716 266.2,720.4" fill="#333"/>
<line x1="320.5" y1="632.9" x2="320.5" y2="756.3" stroke="#555" stroke-width="1.1"/>
<polygon points="309.6,657.5 331.6,657.5 320.6,676.1" fill="#fff"/>
<path d="M309.6,657.5 L331.6,657.5 L320.6,676.1 Z" fill="none" stroke="#1f1f1f" stroke-width="1.1"/>
<rect x="309.5" y="676.5" width="23" height="6" fill="#fff" stroke="#1f1f1f" stroke-width="1.1"/>
<path d="M308.6,669 L301.1,660.5" fill="none" stroke="#333" stroke-width="0.9"/>
<polygon points="300.3,659.7 304.8,659.9 300.5,664.3" fill="#333"/>
<path d="M308.6,675.5 L301.1,667" fill="none" stroke="#333" stroke-width="0.9"/>
<polygon points="300.3,666.2 304.8,666.4 300.5,670.8" fill="#333"/>
<polygon points="309.6,707.1 331.6,707.1 320.6,725.5" fill="#fff"/>
<path d="M309.6,707.1 L331.6,707.1 L320.6,725.5 Z" fill="none" stroke="#1f1f1f" stroke-width="1.1"/>
<rect x="309.5" y="726.5" width="23" height="6" fill="#fff" stroke="#1f1f1f" stroke-width="1.1"/>
<path d="M308.6,718.6 L301.1,710.1" fill="none" stroke="#333" stroke-width="0.9"/>
<polygon points="300.3,709.3 304.8,709.5 300.5,713.9" fill="#333"/>
<path d="M308.6,725.1 L301.1,716.6" fill="none" stroke="#333" stroke-width="0.9"/>
<polygon points="300.3,715.8 304.8,716 300.5,720.4" fill="#333"/>
<line x1="426.5" y1="632.9" x2="426.5" y2="756.3" stroke="#555" stroke-width="1.1"/>
<polygon points="415.9,657.5 437.9,657.5 426.9,676.1" fill="#fff"/>
<path d="M415.9,657.5 L437.9,657.5 L426.9,676.1 Z" fill="none" stroke="#1f1f1f" stroke-width="1.1"/>
<rect x="415.5" y="676.5" width="23" height="6" fill="#fff" stroke="#1f1f1f" stroke-width="1.1"/>
<path d="M414.9,669 L407.4,660.5" fill="none" stroke="#333" stroke-width="0.9"/>
<polygon points="406.6,659.7 411.1,659.9 406.8,664.3" fill="#333"/>
<path d="M414.9,675.5 L407.4,667" fill="none" stroke="#333" stroke-width="0.9"/>
<polygon points="406.6,666.2 411.1,666.4 406.8,670.8" fill="#333"/>
<polygon points="415.9,707.1 437.9,707.1 426.9,725.5" fill="#fff"/>
<path d="M415.9,707.1 L437.9,707.1 L426.9,725.5 Z" fill="none" stroke="#1f1f1f" stroke-width="1.1"/>
<rect x="415.5" y="726.5" width="23" height="6" fill="#fff" stroke="#1f1f1f" stroke-width="1.1"/>
<path d="M414.9,718.6 L407.4,710.1" fill="none" stroke="#333" stroke-width="0.9"/>
<polygon points="406.6,709.3 411.1,709.5 406.8,713.9" fill="#333"/>
<path d="M414.9,725.1 L407.4,716.6" fill="none" stroke="#333" stroke-width="0.9"/>
<polygon points="406.6,715.8 411.1,716 406.8,720.4" fill="#333"/>
<line x1="461.5" y1="632.9" x2="461.5" y2="756.3" stroke="#555" stroke-width="1.1"/>
<polygon points="450.1,657.5 472.1,657.5 461.1,676.1" fill="#fff"/>
<path d="M450.1,657.5 L472.1,657.5 L461.1,676.1 Z" fill="none" stroke="#1f1f1f" stroke-width="1.1"/>
<rect x="449.5" y="676.5" width="23" height="6" fill="#fff" stroke="#1f1f1f" stroke-width="1.1"/>
<path d="M449.1,669 L441.6,660.5" fill="none" stroke="#333" stroke-width="0.9"/>
<polygon points="440.8,659.7 445.3,659.9 441,664.3" fill="#333"/>
<path d="M449.1,675.5 L441.6,667" fill="none" stroke="#333" stroke-width="0.9"/>
<polygon points="440.8,666.2 445.3,666.4 441,670.8" fill="#333"/>
<polygon points="450.1,707.1 472.1,707.1 461.1,725.5" fill="#fff"/>
<path d="M450.1,707.1 L472.1,707.1 L461.1,725.5 Z" fill="none" stroke="#1f1f1f" stroke-width="1.1"/>
<rect x="449.5" y="726.5" width="23" height="6" fill="#fff" stroke="#1f1f1f" stroke-width="1.1"/>
<path d="M449.1,718.6 L441.6,710.1" fill="none" stroke="#333" stroke-width="0.9"/>
<polygon points="440.8,709.3 445.3,709.5 441,713.9" fill="#333"/>
<path d="M449.1,725.1 L441.6,716.6" fill="none" stroke="#333" stroke-width="0.9"/>
<polygon points="440.8,715.8 445.3,716 441,720.4" fill="#333"/>
<ellipse cx="320.6" cy="632.9" rx="1.5" ry="1.5" fill="#fff" stroke="#1f1f1f" stroke-width="0.8"/>
<ellipse cx="320.6" cy="756.3" rx="1.5" ry="1.5" fill="#fff" stroke="#1f1f1f" stroke-width="0.8"/>
<ellipse cx="426.9" cy="632.9" rx="1.5" ry="1.5" fill="#fff" stroke="#1f1f1f" stroke-width="0.8"/>
<ellipse cx="426.9" cy="756.3" rx="1.5" ry="1.5" fill="#fff" stroke="#1f1f1f" stroke-width="0.8"/>
<ellipse cx="461.1" cy="632.9" rx="1.5" ry="1.5" fill="#fff" stroke="#1f1f1f" stroke-width="0.8"/>
<ellipse cx="461.1" cy="756.3" rx="1.5" ry="1.5" fill="#fff" stroke="#1f1f1f" stroke-width="0.8"/>
<line x1="354.9" y1="669.5" x2="389.1" y2="669.5" stroke="#555" stroke-width="1" stroke-dasharray="3 2"/>
<line x1="354.9" y1="718.5" x2="389.1" y2="718.5" stroke="#555" stroke-width="1" stroke-dasharray="3 2"/>
<text x="371.3" y="794.7" font-size="15.26" font-weight="normal" font-style="normal" font-family="Liberation Sans" fill="#222" textLength="140.1" lengthAdjust="spacingAndGlyphs">Backlight Circuit</text>
<line x1="371.3" y1="797.5" x2="513.7" y2="797.5" stroke="#555" stroke-width="1"/>
<text x="395.3" y="813.4" font-size="15.26" font-weight="normal" font-style="normal" font-family="Liberation Sans" fill="#222" textLength="91" lengthAdjust="spacingAndGlyphs">Scale=free</text>
<line x1="395.3" y1="814.5" x2="489" y2="814.5" stroke="#555" stroke-width="1"/>
<line x1="829.5" y1="649.9" x2="829.5" y2="773.7" stroke="#555" stroke-width="1"/>
<line x1="1001.5" y1="649.9" x2="1001.5" y2="773.7" stroke="#555" stroke-width="1"/>
<line x1="814.8" y1="657.5" x2="1008.7" y2="657.5" stroke="#555" stroke-width="1"/>
<line x1="814.8" y1="704" x2="1008.7" y2="704" stroke="#555" stroke-width="2"/>
<line x1="814.8" y1="711.5" x2="1008.7" y2="711.5" stroke="#555" stroke-width="1"/>
<line x1="814.8" y1="758.5" x2="1008.7" y2="758.5" stroke="#555" stroke-width="1"/>
<text x="790.4" y="665" font-size="17.44" font-weight="normal" font-style="normal" font-family="Liberation Sans" fill="#222" textLength="15.8" lengthAdjust="spacingAndGlyphs" stroke="#fff" stroke-width="0.23">C1</text>
<text x="790.4" y="702" font-size="17.44" font-weight="normal" font-style="normal" font-family="Liberation Sans" fill="#222" textLength="15.6" lengthAdjust="spacingAndGlyphs" stroke="#fff" stroke-width="0.23">C8</text>
<text x="791.5" y="720.5" font-size="17.44" font-weight="normal" font-style="normal" font-family="Liberation Sans" fill="#222" textLength="20.4" lengthAdjust="spacingAndGlyphs" stroke="#fff" stroke-width="0.23">C9</text>
<text x="784.7" y="767" font-size="17.44" font-weight="normal" font-style="normal" font-family="Liberation Sans" fill="#222" textLength="27.2" lengthAdjust="spacingAndGlyphs" stroke="#fff" stroke-width="0.23">C16</text>
<circle cx="800.5" cy="675.5" r="0.9" fill="#333"/><circle cx="800.5" cy="679.5" r="0.9" fill="#333"/>
<circle cx="800.5" cy="738.5" r="0.9" fill="#333"/><circle cx="800.5" cy="742.5" r="0.9" fill="#333"/>
<text x="823" y="791" font-size="17.44" font-family="Liberation Sans" fill="#222" textLength="16" lengthAdjust="spacingAndGlyphs" transform="rotate(-90 831 785)" stroke="#fff" stroke-width="0.23">S1</text>
<text x="986.7" y="800.7" font-size="17.44" font-family="Liberation Sans" fill="#222" textLength="30.6" lengthAdjust="spacingAndGlyphs" transform="rotate(-90 1002 794.7)" stroke="#fff" stroke-width="0.23">S80</text>
<line x1="880.9" y1="782.5" x2="930.2" y2="782.5" stroke="#555" stroke-width="1" stroke-dasharray="2.5 1.5 2.5 7.5"/>
<text x="839" y="840.5" font-size="15.26" font-weight="normal" font-style="normal" font-family="Liberation Sans" fill="#222" textLength="167.5" lengthAdjust="spacingAndGlyphs">Panel Wiring Details</text>
<line x1="839" y1="841.5" x2="1008.7" y2="841.5" stroke="#555" stroke-width="1"/>
<text x="877" y="858" font-size="15.26" font-weight="normal" font-style="normal" font-family="Liberation Sans" fill="#222" textLength="91" lengthAdjust="spacingAndGlyphs">Scale=free</text>
<line x1="877" y1="859.5" x2="971" y2="859.5" stroke="#555" stroke-width="1"/>
<rect x="1020.5" y="839.5" width="369" height="212" fill="none" stroke="#1f1f1f" stroke-width="1.3"/>
<line x1="1020.8" y1="903.5" x2="1389" y2="903.5" stroke="#333" stroke-width="1.4"/>
<line x1="1020.8" y1="940.5" x2="1389" y2="940.5" stroke="#333" stroke-width="1.4"/>
<line x1="1020.8" y1="977.5" x2="1389" y2="977.5" stroke="#333" stroke-width="1.4"/>
<line x1="1020.8" y1="1014.5" x2="1389" y2="1014.5" stroke="#333" stroke-width="1.4"/>
<line x1="1112.5" y1="977.3" x2="1112.5" y2="1014.6" stroke="#555" stroke-width="1.2"/>
<line x1="1204.5" y1="977.3" x2="1204.5" y2="1014.6" stroke="#555" stroke-width="1.2"/>
<line x1="1296.5" y1="977.3" x2="1296.5" y2="1014.6" stroke="#555" stroke-width="1.2"/>
<line x1="1266.5" y1="940.5" x2="1266.5" y2="977.3" stroke="#555" stroke-width="1.2"/>
<line x1="1143.5" y1="1014.6" x2="1143.5" y2="1051.5" stroke="#555" stroke-width="1.2"/>
<line x1="1266.5" y1="1014.6" x2="1266.5" y2="1051.5" stroke="#555" stroke-width="1.2"/>
<text x="1069.6" y="889.6" font-size="47.38" font-weight="bold" font-style="italic" font-family="Liberation Sans" fill="#000" textLength="275.3" lengthAdjust="spacingAndGlyphs">HOT DISPLAY</text>
<text x="1023.4" y="915" font-size="12.35" font-weight="normal" font-style="normal" font-family="Liberation Sans" fill="#222" textLength="55.6" lengthAdjust="spacingAndGlyphs">Dwg Title</text>
<text x="1090.6" y="931.8" font-size="15.99" font-weight="normal" font-style="normal" font-family="Liberation Sans" fill="#222" textLength="219.7" lengthAdjust="spacingAndGlyphs" stroke="#fff" stroke-width="0.11">HTM1602−9−11Y−A5P Outline</text>
<text x="1023.4" y="951.8" font-size="12.35" font-weight="normal" font-style="normal" font-family="Liberation Sans" fill="#222" textLength="45.6" lengthAdjust="spacingAndGlyphs">Dwg No.</text>
<text x="1088.4" y="968.7" font-size="15.99" font-weight="normal" font-style="normal" font-family="Liberation Sans" fill="#222" textLength="67.2" lengthAdjust="spacingAndGlyphs" stroke="#fff" stroke-width="0.11">10300044</text>
<text x="1269" y="951" font-size="12.35" font-weight="normal" font-style="normal" font-family="Liberation Sans" fill="#222" textLength="27.2" lengthAdjust="spacingAndGlyphs">Date</text>
<text x="1283.6" y="968.7" font-size="15.99" font-weight="normal" font-style="normal" font-family="Liberation Sans" fill="#222" textLength="88.4" lengthAdjust="spacingAndGlyphs" stroke="#fff" stroke-width="0.11">2007−01−25</text>
<text x="1023.4" y="987.7" font-size="12.35" font-weight="normal" font-style="normal" font-family="Liberation Sans" fill="#222" textLength="31.6" lengthAdjust="spacingAndGlyphs">Scale</text>
<text x="1063" y="1005.5" font-size="15.99" font-weight="normal" font-style="normal" font-family="Liberation Sans" fill="#222" textLength="29" lengthAdjust="spacingAndGlyphs" stroke="#fff" stroke-width="0.11">3/2</text>
<text x="1116.2" y="987.7" font-size="12.35" font-weight="normal" font-style="normal" font-family="Liberation Sans" fill="#222" textLength="23.8" lengthAdjust="spacingAndGlyphs">Unit</text>
<text x="1154.7" y="1005.5" font-size="14.53" font-weight="normal" font-style="normal" font-family="Liberation Sans" fill="#222" textLength="18.9" lengthAdjust="spacingAndGlyphs">mm</text>
<text x="1210" y="987.7" font-size="12.35" font-weight="normal" font-style="normal" font-family="Liberation Sans" fill="#222" textLength="19" lengthAdjust="spacingAndGlyphs">Tol.</text>
<text x="1248" y="1005" font-size="15.99" font-weight="normal" font-style="normal" font-family="Liberation Sans" fill="#222" textLength="29.1" lengthAdjust="spacingAndGlyphs" stroke="#fff" stroke-width="0.11">±0.5</text>
<text x="1023.4" y="1025" font-size="12.35" font-weight="normal" font-style="normal" font-family="Liberation Sans" fill="#222" textLength="35.4" lengthAdjust="spacingAndGlyphs">Drawn</text>
<text x="1063" y="1042.3" font-size="15.99" font-weight="normal" font-style="normal" font-family="Liberation Sans" fill="#222" textLength="38" lengthAdjust="spacingAndGlyphs" stroke="#fff" stroke-width="0.11">JACK</text>
<text x="1146" y="1025" font-size="12.35" font-weight="normal" font-style="normal" font-family="Liberation Sans" fill="#222" textLength="50" lengthAdjust="spacingAndGlyphs">Checked</text>
<text x="1268.4" y="1025" font-size="12.35" font-weight="normal" font-style="normal" font-family="Liberation Sans" fill="#222" textLength="57.6" lengthAdjust="spacingAndGlyphs">Approved</text>
<ellipse cx="1322.6" cy="996.2" rx="12.2" ry="13.3" fill="none" stroke="#1f1f1f" stroke-width="1.1"/>
<ellipse cx="1322.6" cy="996.2" rx="6.3" ry="6.6" fill="none" stroke="#1f1f1f" stroke-width="1.1"/>
<path d="M1342.8,989.3 L1375.3,982.8 L1375.3,1009.4 L1342.8,1003.3 Z" fill="none" stroke="#1f1f1f" stroke-width="1.2"/>
<line x1="1303.8" y1="996.5" x2="1382.8" y2="996.5" stroke="#555" stroke-width="0.9" stroke-dasharray="6 2 1.5 2"/>
<text x="18.9" y="829.2" font-size="24.71" font-weight="normal" font-style="normal" font-family="Liberation Sans" fill="#222" textLength="60.7" lengthAdjust="spacingAndGlyphs" stroke="#fff" stroke-width="0.85">Note:</text>
<line x1="18.3" y1="848.2" x2="30.9" y2="848.2" stroke="#333" stroke-width="1.1"/>
<line x1="20.15" y1="843.75" x2="29.05" y2="852.65" stroke="#333" stroke-width="1.1"/>
<line x1="24.6" y1="841.9" x2="24.6" y2="854.5" stroke="#333" stroke-width="1.1"/>
<line x1="29.05" y1="843.75" x2="20.15" y2="852.65" stroke="#333" stroke-width="1.1"/>
<text x="32.5" y="856.5" font-size="24.71" font-weight="normal" font-style="normal" font-family="Liberation Sans" fill="#222" textLength="11.35" lengthAdjust="spacingAndGlyphs" stroke="#fff" stroke-width="0.85">1.</text>
<text x="60.16" y="856.5" font-size="24.71" font-weight="normal" font-style="normal" font-family="Liberation Sans" fill="#222" textLength="41.92" lengthAdjust="spacingAndGlyphs" stroke="#fff" stroke-width="0.85">LCD</text>
<text x="118.38" y="856.5" font-size="24.71" font-weight="normal" font-style="normal" font-family="Liberation Sans" fill="#222" textLength="84.13" lengthAdjust="spacingAndGlyphs" stroke="#fff" stroke-width="0.85">Display</text>
<text x="218.81" y="856.5" font-size="24.71" font-weight="normal" font-style="normal" font-family="Liberation Sans" fill="#222" textLength="56.48" lengthAdjust="spacingAndGlyphs" stroke="#fff" stroke-width="0.85">Type</text>
<text x="290.14" y="856.5" font-size="24.71" font-weight="normal" font-style="normal" font-family="Liberation Sans" fill="#222" stroke="#fff" stroke-width="0.85">:</text>
<text x="312.7" y="856.5" font-size="24.71" font-weight="normal" font-style="normal" font-family="Liberation Sans" fill="#222" textLength="121.25" lengthAdjust="spacingAndGlyphs" stroke="#fff" stroke-width="0.85">STN−Gray,</text>
<text x="450.25" y="856.5" font-size="24.71" font-weight="normal" font-style="normal" font-family="Liberation Sans" fill="#222" textLength="105.24" lengthAdjust="spacingAndGlyphs" stroke="#fff" stroke-width="0.85">Positive,</text>
<text x="571.79" y="856.5" font-size="24.71" font-weight="normal" font-style="normal" font-family="Liberation Sans" fill="#222" textLength="171.47" lengthAdjust="spacingAndGlyphs" stroke="#fff" stroke-width="0.85">Transflective</text>
<line x1="18.3" y1="874.7" x2="30.9" y2="874.7" stroke="#333" stroke-width="1.1"/>
<line x1="20.15" y1="870.25" x2="29.05" y2="879.15" stroke="#333" stroke-width="1.1"/>
<line x1="24.6" y1="868.4" x2="24.6" y2="881" stroke="#333" stroke-width="1.1"/>
<line x1="29.05" y1="870.25" x2="20.15" y2="879.15" stroke="#333" stroke-width="1.1"/>
<text x="32.5" y="883" font-size="24.71" font-weight="normal" font-style="normal" font-family="Liberation Sans" fill="#222" textLength="19.3" lengthAdjust="spacingAndGlyphs" stroke="#fff" stroke-width="0.85">2.</text>
<text x="68.06" y="883" font-size="24.71" font-weight="normal" font-style="normal" font-family="Liberation Sans" fill="#222" textLength="83.89" lengthAdjust="spacingAndGlyphs" stroke="#fff" stroke-width="0.85">Viewing</text>
<text x="168.21" y="883" font-size="24.71" font-weight="normal" font-style="normal" font-family="Liberation Sans" fill="#222" textLength="112.92" lengthAdjust="spacingAndGlyphs" stroke="#fff" stroke-width="0.85">Direction</text>
<text x="295.94" y="883" font-size="24.71" font-weight="normal" font-style="normal" font-family="Liberation Sans" fill="#222" stroke="#fff" stroke-width="0.85">:</text>
<text x="318.44" y="883" font-size="24.71" font-weight="normal" font-style="normal" font-family="Liberation Sans" fill="#222" textLength="33.82" lengthAdjust="spacingAndGlyphs" stroke="#fff" stroke-width="0.85">12H</text>
<line x1="18.3" y1="900.7" x2="30.9" y2="900.7" stroke="#333" stroke-width="1.1"/>
<line x1="20.15" y1="896.25" x2="29.05" y2="905.15" stroke="#333" stroke-width="1.1"/>
<line x1="24.6" y1="894.4" x2="24.6" y2="907" stroke="#333" stroke-width="1.1"/>
<line x1="29.05" y1="896.25" x2="20.15" y2="905.15" stroke="#333" stroke-width="1.1"/>
<text x="32.5" y="909" font-size="24.71" font-weight="normal" font-style="normal" font-family="Liberation Sans" fill="#222" textLength="19.61" lengthAdjust="spacingAndGlyphs" stroke="#fff" stroke-width="0.85">3.</text>
<text x="68.63" y="909" font-size="24.71" font-weight="normal" font-style="normal" font-family="Liberation Sans" fill="#222" textLength="57.21" lengthAdjust="spacingAndGlyphs" stroke="#fff" stroke-width="0.85">Duty</text>
<text x="140.88" y="909" font-size="24.71" font-weight="normal" font-style="normal" font-family="Liberation Sans" fill="#222" stroke="#fff" stroke-width="0.85">:</text>
<text x="163.73" y="909" font-size="24.71" font-weight="normal" font-style="normal" font-family="Liberation Sans" fill="#222" textLength="47.63" lengthAdjust="spacingAndGlyphs" stroke="#fff" stroke-width="0.85">1/16;</text>
<text x="227.88" y="909" font-size="24.71" font-weight="normal" font-style="normal" font-family="Liberation Sans" fill="#222" textLength="49.1" lengthAdjust="spacingAndGlyphs" stroke="#fff" stroke-width="0.85">Bias</text>
<text x="292.02" y="909" font-size="24.71" font-weight="normal" font-style="normal" font-family="Liberation Sans" fill="#222" stroke="#fff" stroke-width="0.85">:</text>
<text x="314.87" y="909" font-size="24.71" font-weight="normal" font-style="normal" font-family="Liberation Sans" fill="#222" textLength="34.36" lengthAdjust="spacingAndGlyphs" stroke="#fff" stroke-width="0.85">1/5</text>
<line x1="18.3" y1="927" x2="30.9" y2="927" stroke="#333" stroke-width="1.1"/>
<line x1="20.15" y1="922.55" x2="29.05" y2="931.45" stroke="#333" stroke-width="1.1"/>
<line x1="24.6" y1="920.7" x2="24.6" y2="933.3" stroke="#333" stroke-width="1.1"/>
<line x1="29.05" y1="922.55" x2="20.15" y2="931.45" stroke="#333" stroke-width="1.1"/>
<text x="32.5" y="935.3" font-size="24.71" font-weight="normal" font-style="normal" font-family="Liberation Sans" fill="#222" textLength="19.46" lengthAdjust="spacingAndGlyphs" stroke="#fff" stroke-width="0.85">4.</text>
<text x="68.36" y="935.3" font-size="24.71" font-weight="normal" font-style="normal" font-family="Liberation Sans" fill="#222" textLength="121.91" lengthAdjust="spacingAndGlyphs" stroke="#fff" stroke-width="0.85">Operating</text>
<text x="206.66" y="935.3" font-size="24.71" font-weight="normal" font-style="normal" font-family="Liberation Sans" fill="#222" textLength="92.64" lengthAdjust="spacingAndGlyphs" stroke="#fff" stroke-width="0.85">Voltage</text>
<text x="314.22" y="935.3" font-size="24.71" font-weight="normal" font-style="normal" font-family="Liberation Sans" fill="#222" stroke="#fff" stroke-width="0.85">:</text>
<text x="336.91" y="935.3" font-size="24.71" font-weight="normal" font-style="normal" font-family="Liberation Sans" fill="#222" textLength="48.73" lengthAdjust="spacingAndGlyphs" stroke="#fff" stroke-width="0.85">5.0V</text>
<line x1="18.3" y1="953.7" x2="30.9" y2="953.7" stroke="#333" stroke-width="1.1"/>
<line x1="20.15" y1="949.25" x2="29.05" y2="958.15" stroke="#333" stroke-width="1.1"/>
<line x1="24.6" y1="947.4" x2="24.6" y2="960" stroke="#333" stroke-width="1.1"/>
<line x1="29.05" y1="949.25" x2="20.15" y2="958.15" stroke="#333" stroke-width="1.1"/>
<text x="32.5" y="962" font-size="24.71" font-weight="normal" font-style="normal" font-family="Liberation Sans" fill="#222" textLength="19.83" lengthAdjust="spacingAndGlyphs" stroke="#fff" stroke-width="0.85">5.</text>
<text x="69.02" y="962" font-size="24.71" font-weight="normal" font-style="normal" font-family="Liberation Sans" fill="#222" textLength="49.64" lengthAdjust="spacingAndGlyphs" stroke="#fff" stroke-width="0.85">Vlcd</text>
<text x="133.87" y="962" font-size="24.71" font-weight="normal" font-style="normal" font-family="Liberation Sans" fill="#222" stroke="#fff" stroke-width="0.85">:</text>
<text x="156.97" y="962" font-size="24.71" font-weight="normal" font-style="normal" font-family="Liberation Sans" fill="#222" textLength="49.64" lengthAdjust="spacingAndGlyphs" stroke="#fff" stroke-width="0.85">4.5V</text>
<line x1="18.3" y1="980.5" x2="30.9" y2="980.5" stroke="#333" stroke-width="1.1"/>
<line x1="20.15" y1="976.05" x2="29.05" y2="984.95" stroke="#333" stroke-width="1.1"/>
<line x1="24.6" y1="974.2" x2="24.6" y2="986.8" stroke="#333" stroke-width="1.1"/>
<line x1="29.05" y1="976.05" x2="20.15" y2="984.95" stroke="#333" stroke-width="1.1"/>
<text x="32.5" y="988.8" font-size="24.71" font-weight="normal" font-style="normal" font-family="Liberation Sans" fill="#222" textLength="19.17" lengthAdjust="spacingAndGlyphs" stroke="#fff" stroke-width="0.85">6.</text>
<text x="67.8" y="988.8" font-size="24.71" font-weight="normal" font-style="normal" font-family="Liberation Sans" fill="#222" textLength="112.11" lengthAdjust="spacingAndGlyphs" stroke="#fff" stroke-width="0.85">Backlight</text>
<text x="196.05" y="988.8" font-size="24.71" font-weight="normal" font-style="normal" font-family="Liberation Sans" fill="#222" textLength="62.39" lengthAdjust="spacingAndGlyphs" stroke="#fff" stroke-width="0.85">Color</text>
<text x="273.14" y="988.8" font-size="24.71" font-weight="normal" font-style="normal" font-family="Liberation Sans" fill="#222" stroke="#fff" stroke-width="0.85">:</text>
<text x="295.48" y="988.8" font-size="24.71" font-weight="normal" font-style="normal" font-family="Liberation Sans" fill="#222" textLength="27.09" lengthAdjust="spacingAndGlyphs" stroke="#fff" stroke-width="0.85">YG</text>
<line x1="18.3" y1="1007.3" x2="30.9" y2="1007.3" stroke="#333" stroke-width="1.1"/>
<line x1="20.15" y1="1002.85" x2="29.05" y2="1011.75" stroke="#333" stroke-width="1.1"/>
<line x1="24.6" y1="1001" x2="24.6" y2="1013.6" stroke="#333" stroke-width="1.1"/>
<line x1="29.05" y1="1002.85" x2="20.15" y2="1011.75" stroke="#333" stroke-width="1.1"/>
<text x="32.5" y="1015.6" font-size="24.71" font-weight="normal" font-style="normal" font-family="Liberation Sans" fill="#222" textLength="18.74" lengthAdjust="spacingAndGlyphs" stroke="#fff" stroke-width="0.85">7.</text>
<text x="67.02" y="1015.6" font-size="24.71" font-weight="normal" font-style="normal" font-family="Liberation Sans" fill="#222" textLength="117.37" lengthAdjust="spacingAndGlyphs" stroke="#fff" stroke-width="0.85">Operating</text>
<text x="200.18" y="1015.6" font-size="24.71" font-weight="normal" font-style="normal" font-family="Liberation Sans" fill="#222" textLength="153.3" lengthAdjust="spacingAndGlyphs" stroke="#fff" stroke-width="0.85">Temperature</text>
<text x="367.85" y="1015.6" font-size="24.71" font-weight="normal" font-style="normal" font-family="Liberation Sans" fill="#222" stroke="#fff" stroke-width="0.85">:</text>
<text x="389.69" y="1015.6" font-size="24.71" font-weight="normal" font-style="normal" font-family="Liberation Sans" fill="#222" textLength="139.21" lengthAdjust="spacingAndGlyphs" stroke="#fff" stroke-width="0.85">−20°C~70°C</text>
<line x1="18.3" y1="1033.7" x2="30.9" y2="1033.7" stroke="#333" stroke-width="1.1"/>
<line x1="20.15" y1="1029.25" x2="29.05" y2="1038.15" stroke="#333" stroke-width="1.1"/>
<line x1="24.6" y1="1027.4" x2="24.6" y2="1040" stroke="#333" stroke-width="1.1"/>
<line x1="29.05" y1="1029.25" x2="20.15" y2="1038.15" stroke="#333" stroke-width="1.1"/>
<text x="32.5" y="1042" font-size="24.71" font-weight="normal" font-style="normal" font-family="Liberation Sans" fill="#222" textLength="18.77" lengthAdjust="spacingAndGlyphs" stroke="#fff" stroke-width="0.85">8.</text>
<text x="67.08" y="1042" font-size="24.71" font-weight="normal" font-style="normal" font-family="Liberation Sans" fill="#222" textLength="97.11" lengthAdjust="spacingAndGlyphs" stroke="#fff" stroke-width="0.85">Storage</text>
<text x="180" y="1042" font-size="24.71" font-weight="normal" font-style="normal" font-family="Liberation Sans" fill="#222" textLength="153.57" lengthAdjust="spacingAndGlyphs" stroke="#fff" stroke-width="0.85">Temperature</text>
<text x="347.97" y="1042" font-size="24.71" font-weight="normal" font-style="normal" font-family="Liberation Sans" fill="#222" stroke="#fff" stroke-width="0.85">:</text>
<text x="369.85" y="1042" font-size="24.71" font-weight="normal" font-style="normal" font-family="Liberation Sans" fill="#222" textLength="139.46" lengthAdjust="spacingAndGlyphs" stroke="#fff" stroke-width="0.85">−30°C~80°C</text>
</svg>
</body></html>
